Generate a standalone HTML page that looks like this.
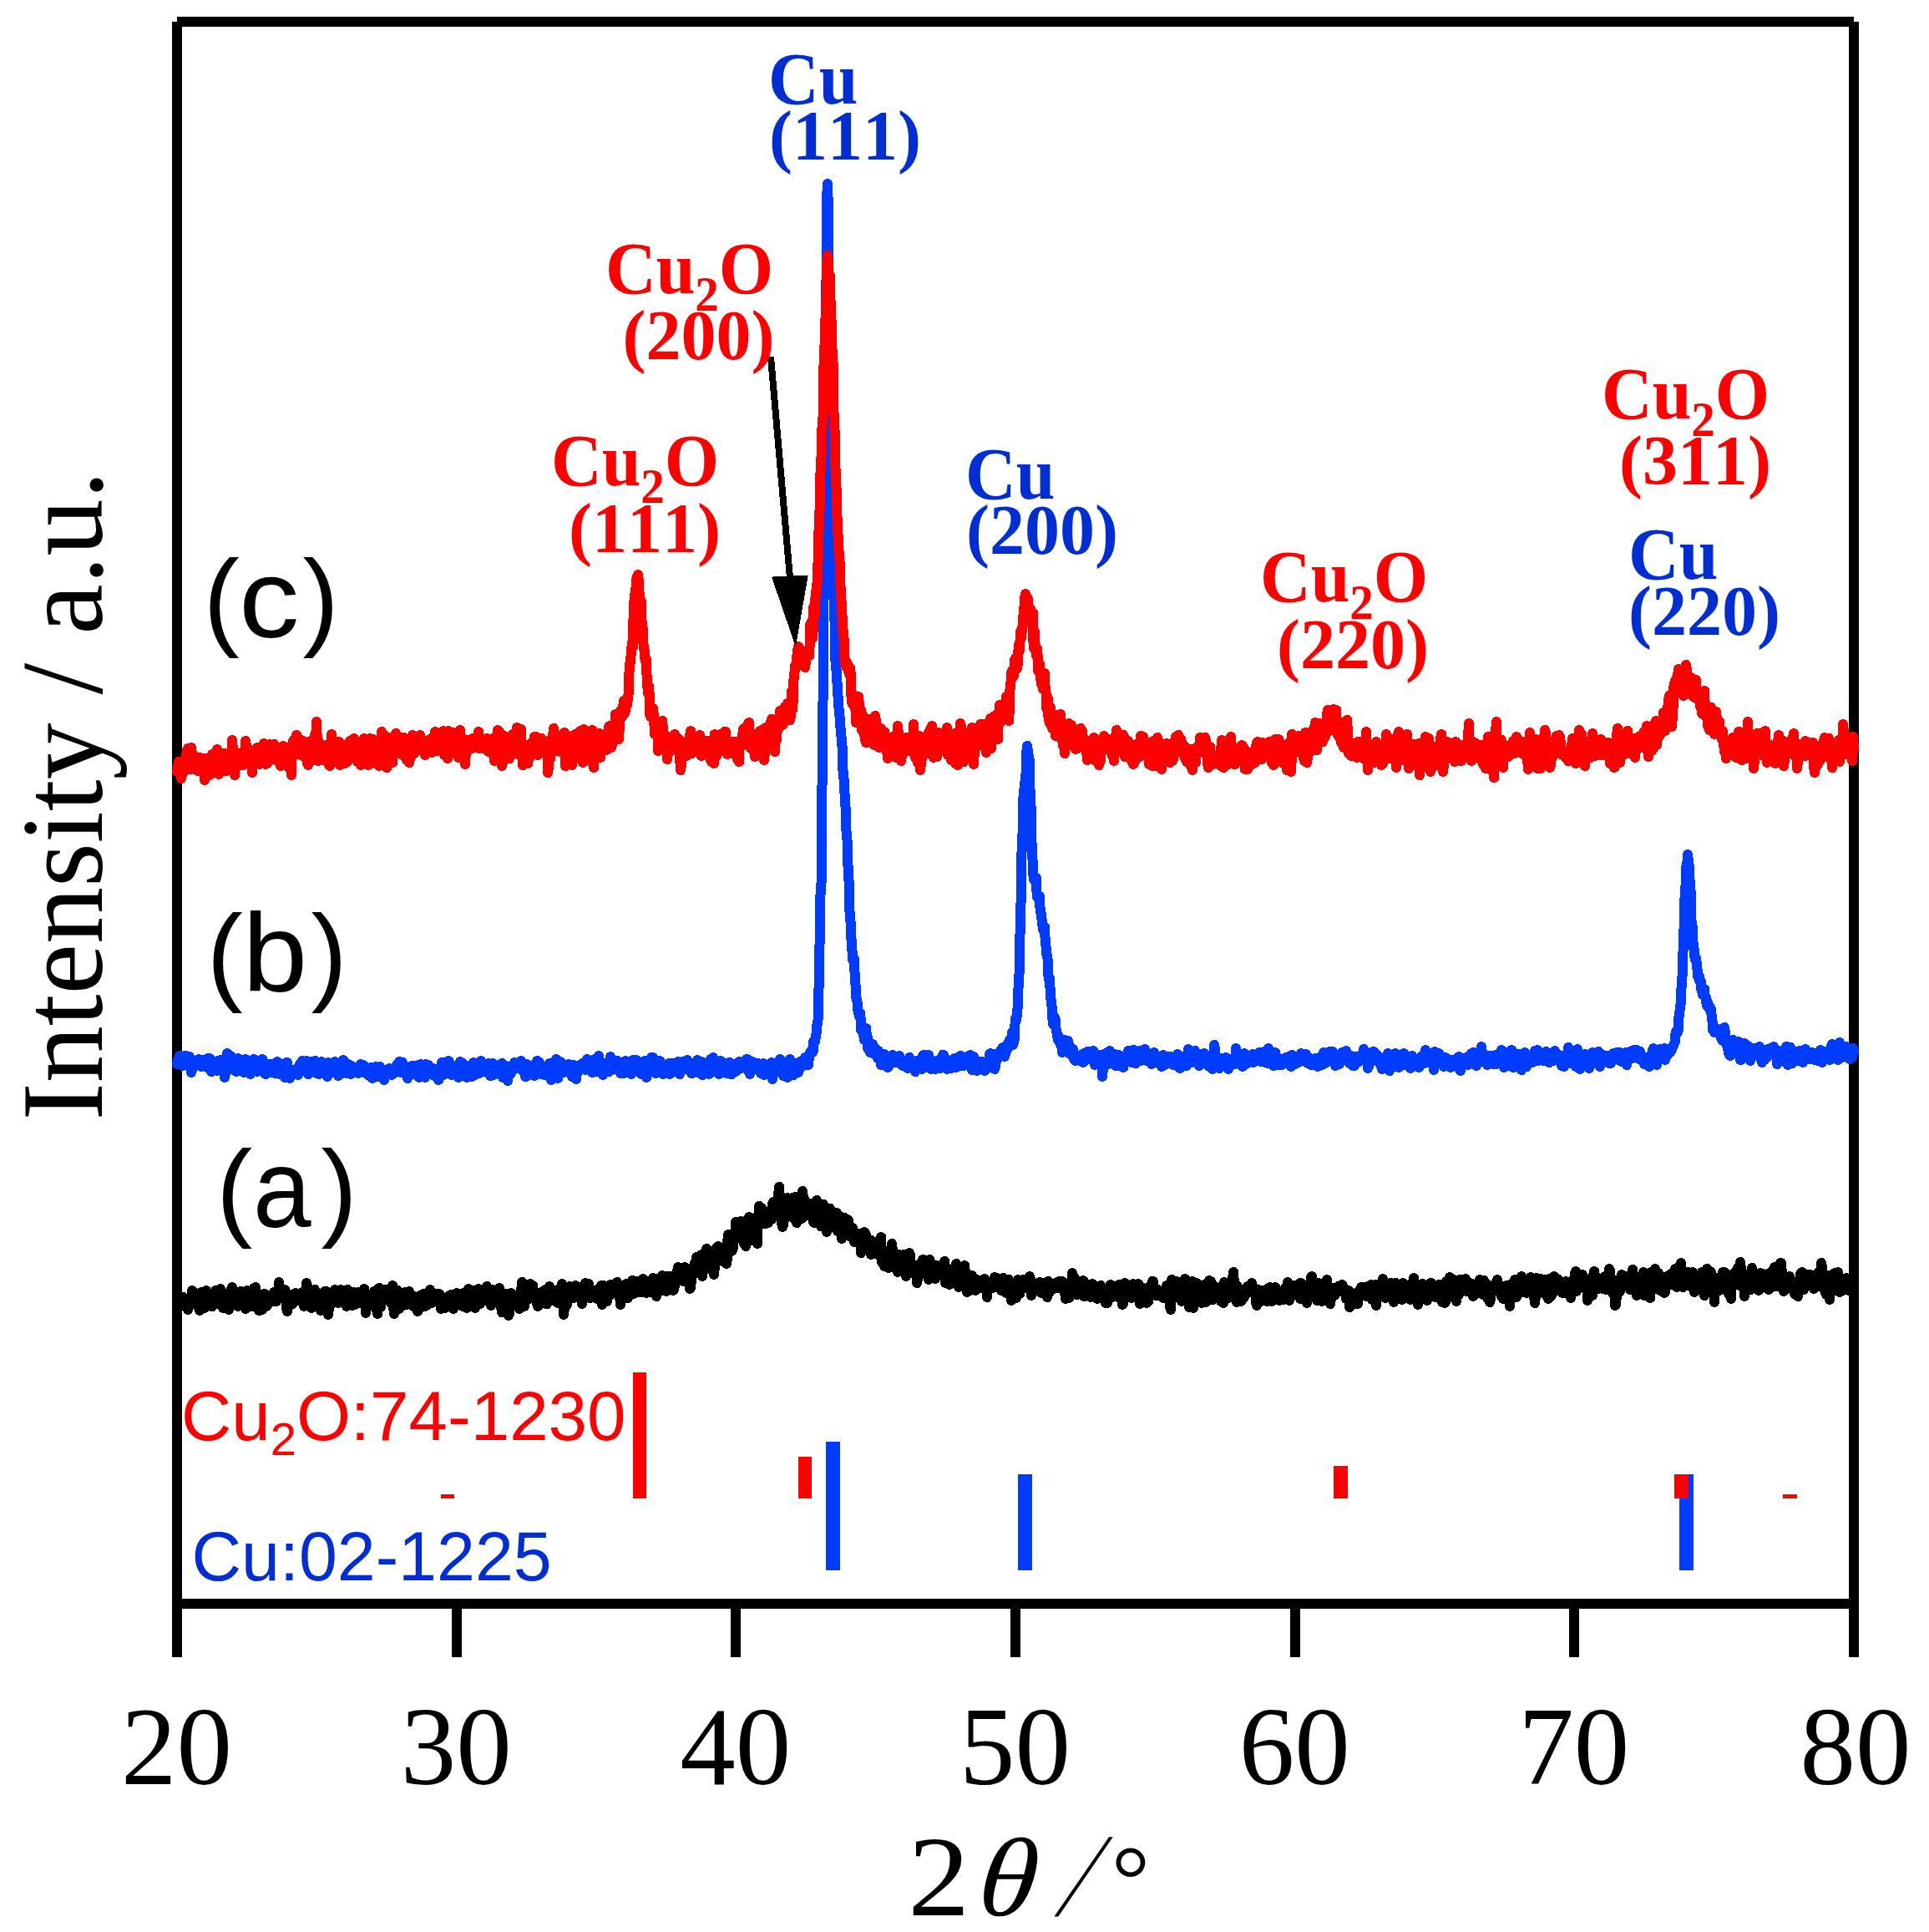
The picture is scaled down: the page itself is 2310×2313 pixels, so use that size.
<!DOCTYPE html><html><head><meta charset="utf-8"><title>XRD</title><style>html,body{margin:0;padding:0;background:#fff;overflow:hidden}svg{display:block}</style></head><body><svg width="2310" height="2313" viewBox="0 0 2310 2313" style="font-kerning:none">
<rect width="2310" height="2313" fill="#fff"/>
<g fill="#000" shape-rendering="crispEdges">
<rect x="212" y="20" width="2008" height="12"/>
<rect x="206" y="26" width="12" height="1958"/>
<rect x="2214" y="26" width="12" height="1958"/>
<rect x="212" y="1914" width="2008" height="12"/>
<rect x="541" y="1920" width="12" height="64"/>
<rect x="875" y="1920" width="12" height="64"/>
<rect x="1210" y="1920" width="12" height="64"/>
<rect x="1545" y="1920" width="12" height="64"/>
<rect x="1879" y="1920" width="12" height="64"/>
</g>
<g shape-rendering="crispEdges">
<rect x="989" y="1726" width="17" height="154" fill="#003cff"/>
<rect x="1219" y="1765" width="17" height="115" fill="#003cff"/>
<rect x="2011" y="1765" width="17" height="115" fill="#003cff"/>
<rect x="528" y="1789" width="16" height="5" fill="#ff0000"/>
<rect x="758" y="1643" width="16" height="151" fill="#ff0000"/>
<rect x="956" y="1744" width="16" height="50" fill="#ff0000"/>
<rect x="1597" y="1755" width="17" height="39" fill="#ff0000"/>
<rect x="2005" y="1765" width="17" height="29" fill="#ff0000"/>
<rect x="2135" y="1789" width="17" height="5" fill="#ff0000"/>
</g>
<path d="M212 1564L213 1553L213 1555L214 1557L215 1554L215 1552L216 1555L217 1563L217 1560L218 1555L219 1560L219 1553L220 1557L221 1561L221 1564L222 1564L223 1563L223 1561L224 1563L225 1566L225 1568L226 1560L227 1563L227 1562L228 1557L229 1554L230 1545L231 1546L231 1553L232 1552L233 1560L233 1558L234 1557L235 1558L236 1554L237 1553L237 1557L238 1565L239 1569L239 1568L240 1561L241 1552L241 1547L242 1558L243 1562L243 1558L244 1563L245 1566L245 1562L246 1564L247 1556L247 1545L248 1548L249 1554L249 1556L250 1551L251 1549L252 1554L253 1559L253 1564L254 1564L255 1560L256 1558L257 1561L258 1560L258 1545L259 1550L260 1561L261 1553L262 1558L262 1561L263 1551L264 1543L264 1547L265 1550L266 1555L266 1557L267 1566L268 1560L268 1551L269 1549L270 1549L270 1560L271 1566L272 1561L272 1559L273 1554L274 1562L274 1568L275 1557L276 1563L276 1562L277 1544L278 1541L278 1549L279 1559L280 1556L281 1561L282 1560L282 1557L283 1558L284 1561L284 1559L285 1564L286 1557L286 1552L287 1560L288 1556L288 1546L289 1550L290 1547L290 1550L291 1557L292 1554L292 1556L293 1560L294 1567L294 1558L295 1546L296 1545L296 1549L297 1555L298 1559L298 1563L299 1560L300 1559L301 1557L302 1560L302 1564L303 1562L304 1551L304 1542L305 1548L306 1550L306 1541L307 1549L308 1557L308 1551L309 1553L310 1568L310 1569L311 1562L312 1567L312 1565L313 1559L314 1568L314 1557L315 1550L316 1549L316 1551L317 1549L318 1556L318 1564L319 1560L320 1559L320 1563L321 1557L322 1559L322 1558L323 1557L324 1558L324 1557L325 1555L326 1550L326 1552L327 1558L328 1554L328 1547L329 1548L330 1550L330 1555L331 1558L332 1556L332 1553L333 1552L334 1541L334 1535L335 1545L336 1544L337 1548L338 1554L339 1551L339 1554L340 1551L341 1544L341 1545L342 1556L343 1562L343 1566L344 1570L345 1563L345 1558L346 1556L347 1556L347 1552L348 1555L349 1562L349 1550L350 1554L351 1560L351 1556L352 1550L353 1552L353 1550L354 1548L355 1552L356 1553L357 1556L357 1552L358 1555L359 1554L359 1557L360 1558L361 1555L361 1549L362 1547L363 1549L363 1557L364 1564L365 1563L365 1556L366 1551L367 1541L367 1536L368 1544L369 1546L369 1541L370 1543L371 1553L371 1548L372 1549L373 1566L373 1562L374 1556L375 1557L376 1560L377 1547L377 1544L378 1550L379 1554L379 1559L380 1548L381 1548L381 1557L382 1562L383 1564L383 1566L384 1569L385 1559L385 1558L386 1561L387 1555L387 1552L388 1551L389 1548L389 1546L390 1546L391 1546L391 1550L392 1552L393 1568L393 1574L394 1566L395 1556L395 1554L396 1562L397 1561L397 1558L398 1555L399 1558L399 1554L400 1550L401 1544L401 1549L402 1556L403 1553L403 1554L404 1559L405 1560L405 1557L406 1545L407 1554L407 1556L408 1544L409 1546L409 1555L410 1550L411 1550L411 1557L412 1556L413 1555L413 1552L414 1558L415 1564L415 1555L416 1544L417 1554L417 1555L418 1553L419 1557L419 1553L420 1561L421 1560L422 1563L422 1556L423 1547L424 1554L424 1559L425 1562L426 1561L426 1554L427 1558L428 1560L428 1553L429 1547L430 1549L430 1560L431 1560L432 1549L432 1548L433 1556L434 1549L434 1551L435 1547L436 1543L436 1551L437 1558L438 1569L438 1572L439 1562L440 1564L440 1563L441 1553L442 1553L442 1562L443 1557L444 1554L444 1553L445 1552L446 1553L446 1562L447 1564L448 1553L448 1546L449 1549L450 1545L450 1551L451 1567L452 1573L452 1561L453 1552L454 1552L454 1542L455 1549L456 1565L456 1560L457 1545L458 1544L458 1556L459 1556L460 1553L460 1555L461 1548L462 1544L462 1554L463 1551L464 1544L464 1545L465 1552L466 1553L466 1557L467 1558L468 1560L468 1554L469 1546L470 1539L470 1546L471 1564L472 1573L472 1553L473 1547L474 1556L474 1557L475 1553L476 1550L476 1545L477 1552L478 1564L478 1567L479 1558L480 1555L480 1560L481 1564L482 1559L482 1553L483 1558L484 1560L484 1550L485 1547L486 1556L486 1561L487 1562L488 1557L488 1551L489 1549L490 1546L491 1549L492 1554L492 1558L493 1551L494 1551L494 1555L495 1564L496 1560L496 1556L497 1560L498 1557L498 1556L499 1565L500 1568L500 1570L501 1569L502 1563L502 1556L503 1551L504 1557L504 1559L505 1560L506 1555L507 1549L508 1560L509 1564L509 1558L510 1561L511 1563L511 1553L512 1549L513 1551L513 1561L514 1559L515 1549L515 1544L516 1553L517 1560L517 1555L518 1554L519 1555L519 1550L520 1554L521 1557L521 1550L522 1549L523 1555L524 1554L525 1557L525 1555L526 1549L527 1550L527 1559L528 1567L529 1564L529 1556L530 1562L531 1563L531 1558L532 1560L533 1566L534 1555L535 1556L536 1557L537 1564L537 1561L538 1551L539 1552L539 1553L540 1550L541 1557L541 1558L542 1557L543 1562L543 1567L544 1559L545 1558L545 1564L546 1555L547 1548L548 1559L549 1561L549 1559L550 1557L551 1553L551 1549L552 1550L553 1556L553 1561L554 1564L555 1554L555 1548L556 1551L557 1558L557 1553L558 1561L559 1566L559 1560L560 1554L561 1543L561 1544L562 1545L563 1552L563 1554L564 1553L565 1560L565 1558L566 1552L567 1547L567 1545L568 1556L569 1566L569 1557L570 1555L571 1555L571 1560L572 1559L573 1551L573 1543L574 1551L575 1561L575 1558L576 1557L577 1549L577 1544L578 1554L579 1557L579 1552L580 1552L581 1555L581 1553L582 1555L583 1549L583 1540L584 1547L585 1549L585 1550L586 1554L587 1554L587 1560L588 1563L589 1555L590 1544L590 1549L591 1558L592 1554L592 1549L593 1554L594 1558L594 1559L595 1557L596 1551L597 1553L598 1549L598 1542L599 1545L600 1549L600 1564L601 1571L602 1571L602 1562L603 1556L604 1559L604 1557L605 1556L606 1549L606 1550L607 1560L608 1566L608 1564L609 1575L610 1573L610 1553L611 1549L612 1548L612 1550L613 1551L614 1555L614 1562L615 1563L616 1558L616 1555L617 1555L618 1557L618 1558L619 1557L620 1554L620 1550L621 1560L622 1567L622 1556L623 1549L624 1558L624 1548L625 1535L626 1547L626 1558L627 1561L628 1564L628 1561L629 1552L630 1540L630 1543L631 1554L632 1556L632 1548L633 1549L634 1551L634 1539L635 1537L636 1548L636 1554L637 1546L638 1539L638 1545L639 1547L640 1554L640 1555L641 1556L642 1557L642 1554L643 1560L644 1564L644 1562L645 1561L646 1555L646 1558L647 1554L648 1547L648 1549L649 1548L650 1548L650 1554L651 1558L652 1553L652 1549L653 1544L654 1552L654 1561L655 1561L656 1556L656 1548L657 1544L658 1546L658 1540L659 1543L660 1552L660 1553L661 1557L662 1548L663 1546L664 1547L664 1545L665 1548L666 1549L667 1557L668 1560L668 1553L669 1555L670 1553L670 1556L671 1559L672 1541L673 1537L674 1544L675 1557L675 1574L676 1566L677 1565L677 1561L678 1552L679 1556L679 1562L680 1556L681 1553L681 1550L682 1540L683 1542L683 1551L684 1552L685 1545L686 1548L687 1550L687 1554L688 1552L689 1547L689 1539L690 1540L691 1545L691 1541L692 1546L693 1544L694 1550L695 1545L695 1541L696 1543L697 1554L697 1561L698 1543L699 1543L699 1550L700 1553L701 1543L701 1536L702 1548L703 1545L703 1542L704 1537L705 1537L705 1545L706 1554L707 1554L707 1548L708 1549L709 1547L709 1548L710 1551L711 1550L711 1545L712 1546L713 1549L713 1547L714 1547L715 1555L715 1551L716 1551L717 1553L717 1550L718 1542L719 1554L719 1547L720 1539L721 1550L721 1562L722 1552L723 1539L723 1544L724 1550L725 1540L725 1541L726 1549L727 1558L727 1553L728 1552L729 1543L729 1541L730 1551L731 1548L731 1538L732 1547L733 1549L733 1543L734 1546L735 1546L735 1541L736 1538L737 1538L738 1536L739 1537L739 1535L740 1541L741 1541L741 1540L742 1552L743 1562L743 1554L744 1542L745 1549L745 1548L746 1543L747 1540L747 1546L748 1554L749 1549L749 1541L750 1537L751 1541L751 1551L752 1554L753 1541L753 1539L754 1539L755 1538L755 1545L756 1544L757 1533L758 1536L758 1548L759 1549L760 1545L760 1539L761 1540L762 1543L762 1537L763 1534L764 1541L764 1545L765 1540L766 1547L766 1546L767 1538L768 1539L768 1543L769 1547L770 1544L770 1531L771 1532L772 1544L772 1545L773 1544L774 1548L775 1539L776 1542L776 1540L777 1546L778 1547L778 1536L779 1538L780 1538L780 1537L781 1536L782 1530L782 1532L783 1543L784 1545L784 1534L785 1534L786 1552L787 1541L788 1531L788 1532L789 1536L790 1536L790 1546L791 1544L792 1538L792 1529L793 1527L794 1530L794 1536L795 1535L796 1535L796 1538L797 1542L798 1546L798 1536L799 1528L800 1536L800 1543L801 1535L802 1533L803 1536L804 1535L804 1528L805 1532L806 1541L806 1545L807 1544L808 1539L808 1531L809 1531L810 1534L810 1526L811 1523L812 1517L812 1521L813 1521L814 1521L814 1528L815 1525L816 1524L817 1526L818 1534L818 1528L819 1523L820 1517L820 1519L821 1522L822 1521L823 1528L824 1535L824 1527L825 1521L826 1527L826 1543L827 1542L828 1532L828 1526L829 1518L830 1519L830 1522L831 1519L832 1512L832 1513L833 1521L834 1516L834 1505L835 1516L836 1524L836 1517L837 1512L838 1509L838 1514L839 1506L840 1502L841 1515L841 1528L842 1512L843 1504L843 1513L844 1520L845 1520L845 1503L846 1495L847 1505L847 1513L848 1516L849 1513L849 1499L850 1498L851 1507L851 1514L852 1511L853 1502L853 1500L854 1512L855 1522L855 1526L856 1515L857 1511L857 1498L858 1494L859 1495L859 1494L860 1492L861 1495L861 1497L862 1499L863 1503L863 1501L864 1503L865 1510L865 1505L866 1500L867 1498L867 1499L868 1498L869 1495L869 1506L870 1513L871 1506L871 1489L872 1478L873 1485L873 1494L874 1497L875 1491L875 1492L876 1498L877 1492L877 1497L878 1494L879 1481L879 1483L880 1480L881 1471L881 1463L882 1468L883 1481L883 1482L884 1480L885 1473L885 1474L886 1472L887 1462L887 1463L888 1477L889 1477L889 1470L890 1475L891 1487L891 1489L892 1475L893 1483L893 1492L894 1485L895 1476L895 1460L896 1474L897 1469L897 1457L898 1473L899 1484L899 1485L900 1481L901 1468L901 1459L902 1460L903 1465L903 1466L904 1462L905 1465L905 1472L906 1476L907 1489L907 1483L908 1457L909 1448L909 1444L910 1448L911 1457L911 1449L912 1446L913 1455L913 1462L914 1456L915 1456L915 1465L916 1465L917 1465L917 1462L918 1451L919 1451L919 1454L920 1464L921 1461L921 1452L922 1458L923 1452L924 1460L924 1456L925 1442L926 1439L926 1445L927 1448L928 1447L928 1449L929 1441L930 1446L930 1444L931 1435L932 1442L932 1431L933 1421L934 1434L934 1448L935 1454L936 1452L936 1464L937 1469L938 1467L938 1464L939 1453L940 1446L940 1454L941 1458L942 1451L942 1439L943 1434L944 1447L945 1436L946 1444L946 1452L947 1449L948 1454L948 1449L949 1434L950 1439L950 1451L951 1459L952 1453L952 1433L953 1440L954 1455L954 1464L955 1460L956 1441L956 1434L957 1437L958 1444L958 1440L959 1454L960 1459L960 1445L961 1426L962 1435L962 1445L963 1435L964 1439L964 1448L965 1455L966 1453L966 1449L967 1444L968 1445L968 1449L969 1453L970 1452L970 1451L971 1441L972 1453L972 1456L973 1459L974 1457L974 1463L975 1464L976 1451L976 1449L977 1450L978 1447L978 1437L979 1444L980 1446L980 1444L981 1443L982 1444L982 1461L983 1468L984 1468L984 1449L985 1442L986 1447L986 1442L987 1449L988 1449L988 1452L989 1458L990 1464L990 1475L991 1465L992 1453L992 1458L993 1451L994 1451L994 1447L995 1453L996 1467L996 1459L997 1452L998 1454L998 1463L999 1470L1000 1454L1000 1452L1001 1460L1002 1452L1002 1461L1003 1474L1004 1468L1004 1461L1005 1457L1006 1456L1006 1461L1007 1472L1008 1483L1009 1480L1009 1466L1010 1465L1011 1469L1011 1458L1012 1462L1013 1465L1013 1460L1014 1463L1015 1469L1015 1460L1016 1461L1017 1468L1017 1471L1018 1470L1019 1481L1019 1478L1020 1474L1021 1473L1021 1470L1022 1473L1023 1487L1023 1485L1024 1484L1025 1487L1025 1481L1026 1485L1027 1482L1027 1479L1028 1482L1029 1477L1029 1482L1030 1482L1031 1490L1031 1500L1032 1493L1033 1484L1034 1481L1035 1475L1035 1477L1036 1488L1037 1489L1037 1478L1038 1487L1039 1495L1039 1491L1040 1488L1041 1494L1041 1489L1042 1500L1043 1502L1043 1485L1044 1492L1045 1500L1045 1497L1046 1491L1047 1489L1047 1487L1048 1497L1049 1501L1049 1493L1050 1489L1051 1494L1051 1499L1052 1501L1053 1501L1053 1498L1054 1485L1055 1481L1055 1504L1056 1511L1057 1496L1058 1507L1059 1514L1059 1516L1060 1516L1061 1510L1062 1509L1063 1508L1063 1516L1064 1518L1065 1515L1065 1511L1066 1511L1067 1505L1067 1501L1068 1489L1069 1497L1069 1510L1070 1509L1071 1505L1071 1503L1072 1518L1073 1519L1073 1513L1074 1515L1075 1519L1075 1523L1076 1513L1077 1502L1077 1510L1078 1522L1079 1519L1079 1513L1080 1516L1081 1517L1081 1514L1082 1502L1083 1505L1083 1516L1084 1516L1085 1522L1085 1528L1086 1519L1087 1514L1087 1510L1088 1510L1089 1510L1089 1500L1090 1502L1091 1520L1092 1523L1092 1524L1093 1521L1094 1520L1094 1524L1095 1521L1096 1515L1096 1520L1097 1515L1098 1524L1098 1536L1099 1531L1100 1529L1100 1523L1101 1522L1102 1522L1102 1520L1103 1512L1104 1512L1104 1516L1105 1508L1106 1512L1106 1521L1107 1516L1108 1510L1108 1512L1109 1518L1110 1520L1110 1521L1111 1526L1112 1532L1112 1519L1113 1508L1114 1518L1114 1523L1115 1519L1116 1515L1116 1526L1117 1526L1118 1519L1118 1514L1119 1522L1120 1528L1120 1531L1121 1521L1122 1515L1122 1519L1123 1520L1124 1522L1124 1518L1125 1520L1126 1523L1127 1520L1128 1518L1128 1521L1129 1522L1130 1524L1130 1519L1131 1510L1132 1523L1132 1536L1133 1534L1134 1532L1134 1530L1135 1521L1136 1519L1136 1532L1137 1538L1138 1535L1138 1533L1139 1531L1140 1529L1140 1530L1141 1530L1142 1528L1142 1521L1143 1523L1144 1530L1144 1522L1145 1513L1146 1518L1146 1520L1147 1538L1148 1541L1148 1534L1149 1524L1150 1520L1150 1526L1151 1528L1152 1526L1152 1531L1153 1537L1154 1534L1154 1520L1155 1515L1156 1524L1156 1528L1157 1537L1158 1547L1159 1541L1160 1544L1160 1546L1161 1538L1162 1537L1162 1539L1163 1533L1164 1528L1164 1527L1165 1530L1166 1531L1166 1536L1167 1537L1168 1545L1168 1542L1169 1532L1170 1537L1170 1538L1171 1543L1172 1541L1172 1537L1173 1538L1174 1534L1175 1537L1175 1538L1176 1536L1177 1535L1177 1532L1178 1534L1179 1531L1179 1538L1180 1542L1181 1540L1181 1542L1182 1553L1183 1543L1183 1535L1184 1536L1185 1543L1185 1540L1186 1540L1187 1535L1187 1536L1188 1538L1189 1542L1189 1536L1190 1533L1191 1535L1191 1529L1192 1531L1193 1536L1193 1530L1194 1537L1195 1535L1195 1532L1196 1539L1197 1542L1197 1536L1198 1538L1199 1545L1200 1539L1201 1532L1201 1530L1202 1535L1203 1543L1203 1545L1204 1546L1205 1548L1205 1540L1206 1535L1207 1541L1207 1545L1208 1532L1209 1537L1209 1543L1210 1547L1211 1557L1211 1554L1212 1545L1213 1537L1213 1540L1214 1539L1215 1540L1216 1539L1217 1547L1217 1554L1218 1551L1219 1539L1219 1532L1220 1545L1221 1549L1221 1541L1222 1539L1223 1541L1223 1539L1224 1541L1225 1534L1225 1532L1226 1535L1227 1532L1227 1538L1228 1541L1229 1536L1229 1542L1230 1541L1231 1543L1231 1542L1232 1537L1233 1532L1233 1528L1234 1531L1235 1538L1235 1551L1236 1548L1237 1537L1237 1543L1238 1543L1239 1540L1239 1545L1240 1545L1241 1539L1241 1538L1242 1539L1243 1536L1243 1540L1244 1539L1245 1535L1246 1543L1247 1548L1247 1543L1248 1539L1249 1544L1249 1545L1250 1548L1251 1547L1251 1538L1252 1537L1253 1535L1253 1539L1254 1553L1255 1547L1255 1534L1256 1538L1257 1542L1257 1547L1258 1544L1259 1541L1260 1543L1260 1544L1261 1542L1262 1540L1262 1541L1263 1542L1264 1536L1264 1539L1265 1540L1266 1540L1266 1542L1267 1535L1268 1534L1268 1537L1269 1542L1270 1540L1270 1542L1271 1540L1272 1534L1272 1539L1273 1538L1274 1538L1274 1542L1275 1548L1276 1552L1276 1555L1277 1546L1278 1538L1278 1539L1279 1548L1280 1554L1280 1546L1281 1540L1282 1543L1282 1544L1283 1541L1284 1532L1284 1524L1285 1535L1286 1548L1286 1541L1287 1530L1288 1533L1288 1536L1289 1550L1290 1545L1290 1538L1291 1543L1292 1541L1292 1544L1293 1541L1294 1537L1294 1541L1295 1540L1296 1548L1296 1544L1297 1533L1298 1534L1298 1552L1299 1552L1300 1543L1300 1550L1301 1547L1302 1542L1302 1541L1303 1545L1304 1551L1304 1543L1305 1538L1306 1553L1306 1551L1307 1538L1308 1537L1308 1538L1309 1543L1310 1547L1310 1545L1311 1539L1312 1540L1312 1547L1313 1551L1314 1555L1314 1546L1315 1547L1316 1544L1316 1543L1317 1551L1318 1546L1318 1539L1319 1543L1320 1547L1320 1543L1321 1551L1322 1551L1322 1548L1323 1556L1324 1560L1324 1553L1325 1552L1326 1560L1326 1556L1327 1543L1328 1541L1328 1542L1329 1539L1330 1538L1330 1547L1331 1548L1332 1549L1332 1553L1333 1545L1334 1544L1334 1546L1335 1543L1336 1546L1336 1550L1337 1551L1338 1552L1338 1545L1339 1542L1340 1538L1340 1540L1341 1545L1342 1554L1343 1555L1344 1562L1345 1561L1345 1552L1346 1541L1347 1536L1347 1542L1348 1543L1349 1541L1349 1539L1350 1540L1351 1549L1351 1542L1352 1541L1353 1545L1353 1541L1354 1551L1355 1554L1355 1545L1356 1539L1357 1537L1357 1538L1358 1551L1359 1549L1359 1541L1360 1541L1361 1552L1361 1554L1362 1542L1363 1537L1364 1548L1365 1555L1365 1561L1366 1551L1367 1543L1367 1544L1368 1547L1369 1542L1369 1549L1370 1550L1371 1543L1371 1544L1372 1556L1373 1560L1373 1551L1374 1554L1375 1558L1375 1548L1376 1542L1377 1540L1377 1544L1378 1546L1379 1543L1379 1539L1380 1534L1381 1534L1381 1541L1382 1548L1383 1544L1383 1543L1384 1551L1385 1551L1385 1543L1386 1544L1387 1551L1387 1550L1388 1545L1389 1547L1389 1551L1390 1552L1391 1548L1391 1552L1392 1550L1393 1546L1393 1554L1394 1553L1395 1547L1395 1554L1396 1544L1397 1539L1397 1546L1398 1553L1399 1553L1399 1552L1400 1557L1401 1557L1401 1564L1402 1568L1403 1550L1403 1532L1404 1537L1405 1541L1405 1546L1406 1546L1407 1538L1407 1537L1408 1543L1409 1540L1409 1534L1410 1547L1411 1550L1411 1548L1412 1547L1413 1542L1413 1547L1414 1556L1415 1558L1415 1552L1416 1545L1417 1545L1417 1555L1418 1553L1419 1541L1419 1531L1420 1532L1421 1537L1421 1551L1422 1550L1423 1543L1423 1550L1424 1565L1425 1558L1426 1542L1426 1540L1427 1535L1428 1534L1428 1550L1429 1566L1430 1563L1430 1550L1431 1546L1432 1550L1433 1536L1434 1537L1434 1555L1435 1557L1436 1558L1436 1556L1437 1555L1438 1548L1438 1552L1439 1560L1440 1556L1440 1549L1441 1550L1442 1542L1442 1538L1443 1550L1444 1559L1444 1553L1445 1544L1446 1551L1446 1552L1447 1540L1448 1533L1448 1549L1449 1556L1450 1548L1450 1534L1451 1536L1452 1551L1452 1556L1453 1551L1454 1548L1454 1547L1455 1544L1456 1541L1457 1545L1458 1547L1458 1554L1459 1552L1460 1548L1460 1553L1461 1546L1462 1550L1462 1558L1463 1552L1464 1539L1464 1551L1465 1560L1466 1553L1466 1535L1467 1537L1468 1543L1468 1547L1469 1552L1470 1549L1470 1554L1471 1550L1472 1537L1472 1536L1473 1542L1474 1549L1474 1553L1475 1550L1476 1548L1476 1532L1477 1523L1478 1538L1478 1548L1479 1543L1480 1541L1480 1552L1481 1559L1482 1549L1482 1540L1483 1544L1484 1557L1484 1553L1485 1553L1486 1558L1486 1554L1487 1546L1488 1552L1488 1555L1489 1554L1490 1553L1490 1545L1491 1543L1492 1545L1492 1548L1493 1545L1494 1545L1494 1540L1495 1542L1496 1544L1496 1545L1497 1547L1498 1545L1498 1539L1499 1536L1500 1547L1500 1545L1501 1541L1502 1543L1502 1548L1503 1545L1504 1550L1504 1559L1505 1563L1506 1559L1506 1550L1507 1544L1508 1554L1508 1559L1509 1557L1510 1554L1511 1548L1511 1546L1512 1555L1513 1554L1513 1545L1514 1550L1515 1552L1515 1553L1516 1553L1517 1557L1517 1558L1518 1551L1519 1542L1519 1548L1520 1546L1521 1541L1521 1545L1522 1542L1523 1553L1523 1558L1524 1550L1525 1552L1525 1553L1526 1548L1527 1541L1527 1547L1528 1551L1529 1551L1530 1554L1531 1553L1531 1555L1532 1557L1533 1553L1533 1554L1534 1552L1535 1549L1535 1546L1536 1553L1537 1556L1537 1551L1538 1552L1539 1548L1539 1542L1540 1549L1541 1554L1541 1542L1542 1535L1543 1542L1543 1548L1544 1557L1545 1551L1545 1545L1546 1543L1547 1545L1547 1541L1548 1539L1549 1542L1549 1545L1550 1550L1551 1542L1551 1541L1552 1539L1553 1540L1553 1548L1554 1541L1555 1547L1555 1542L1556 1549L1557 1555L1557 1536L1558 1536L1559 1552L1559 1549L1560 1543L1561 1543L1561 1541L1562 1548L1563 1555L1563 1548L1564 1549L1565 1559L1565 1560L1566 1548L1567 1545L1567 1542L1568 1540L1569 1541L1569 1537L1570 1529L1571 1528L1571 1537L1572 1548L1573 1553L1573 1546L1574 1546L1575 1552L1576 1547L1577 1550L1577 1557L1578 1548L1579 1539L1579 1536L1580 1544L1581 1550L1581 1557L1582 1551L1583 1553L1583 1558L1584 1555L1585 1546L1585 1553L1586 1550L1587 1545L1587 1543L1588 1542L1589 1537L1589 1532L1590 1544L1591 1546L1591 1540L1592 1549L1593 1561L1594 1553L1594 1549L1595 1554L1596 1545L1596 1542L1597 1542L1598 1545L1598 1551L1599 1550L1600 1543L1600 1544L1601 1545L1602 1544L1602 1543L1603 1540L1604 1540L1604 1542L1605 1541L1606 1546L1606 1544L1607 1538L1608 1539L1608 1541L1609 1544L1610 1546L1610 1543L1611 1544L1612 1555L1613 1551L1614 1553L1614 1550L1615 1545L1616 1552L1616 1565L1617 1561L1618 1554L1618 1548L1619 1554L1620 1562L1620 1557L1621 1557L1622 1558L1622 1557L1623 1558L1624 1552L1624 1548L1625 1550L1626 1561L1626 1554L1627 1551L1628 1553L1628 1546L1629 1543L1630 1541L1630 1543L1631 1545L1632 1548L1632 1545L1633 1541L1634 1542L1634 1543L1635 1545L1636 1552L1637 1545L1638 1540L1638 1543L1639 1540L1640 1544L1640 1545L1641 1540L1642 1538L1642 1544L1643 1556L1644 1549L1644 1546L1645 1552L1646 1553L1646 1550L1647 1538L1648 1544L1648 1563L1649 1553L1650 1544L1650 1548L1651 1549L1652 1542L1652 1544L1653 1548L1654 1550L1654 1547L1655 1541L1656 1533L1656 1531L1657 1542L1658 1538L1658 1544L1659 1554L1660 1549L1660 1548L1661 1547L1662 1549L1662 1546L1663 1546L1664 1552L1664 1544L1665 1536L1666 1542L1666 1545L1667 1542L1668 1549L1668 1557L1669 1559L1670 1548L1670 1544L1671 1536L1672 1539L1672 1546L1673 1548L1674 1546L1674 1543L1675 1540L1676 1542L1677 1547L1677 1551L1678 1553L1679 1556L1679 1551L1680 1536L1681 1537L1681 1542L1682 1544L1683 1552L1684 1547L1685 1549L1685 1552L1686 1545L1687 1545L1687 1551L1688 1554L1689 1556L1689 1553L1690 1549L1691 1541L1691 1538L1692 1536L1693 1530L1693 1544L1694 1552L1695 1547L1696 1551L1697 1550L1697 1556L1698 1562L1699 1557L1699 1554L1700 1551L1701 1548L1701 1547L1702 1549L1703 1548L1703 1537L1704 1541L1705 1546L1705 1541L1706 1541L1707 1542L1707 1548L1708 1555L1709 1557L1709 1550L1710 1542L1711 1546L1711 1552L1712 1550L1713 1536L1713 1538L1714 1536L1715 1546L1715 1550L1716 1551L1717 1552L1717 1548L1718 1543L1719 1548L1719 1553L1720 1547L1721 1542L1721 1540L1722 1548L1723 1543L1723 1538L1724 1538L1725 1538L1725 1544L1726 1554L1727 1556L1727 1559L1728 1555L1729 1544L1729 1549L1730 1560L1731 1559L1731 1538L1732 1534L1733 1543L1733 1541L1734 1539L1735 1543L1735 1535L1736 1529L1737 1539L1737 1547L1738 1551L1739 1552L1739 1547L1740 1542L1741 1536L1741 1532L1742 1540L1743 1551L1743 1556L1744 1558L1745 1544L1745 1535L1746 1547L1747 1550L1747 1536L1748 1532L1749 1543L1749 1546L1750 1538L1751 1538L1751 1536L1752 1532L1753 1534L1753 1541L1754 1541L1755 1533L1755 1531L1756 1546L1757 1542L1757 1538L1758 1538L1759 1540L1759 1536L1760 1540L1761 1545L1762 1546L1762 1538L1763 1537L1764 1546L1764 1552L1765 1541L1766 1540L1766 1541L1767 1546L1768 1549L1768 1547L1769 1546L1770 1545L1770 1540L1771 1537L1772 1532L1772 1536L1773 1538L1774 1542L1774 1548L1775 1549L1776 1550L1776 1546L1777 1533L1778 1540L1778 1544L1779 1540L1780 1537L1780 1546L1781 1554L1782 1552L1782 1547L1783 1549L1784 1555L1784 1559L1785 1555L1786 1547L1786 1545L1787 1545L1788 1544L1788 1543L1789 1545L1790 1539L1790 1538L1791 1542L1792 1540L1792 1535L1793 1532L1794 1543L1794 1545L1795 1543L1796 1546L1796 1544L1797 1544L1798 1552L1798 1547L1799 1552L1800 1555L1800 1544L1801 1540L1802 1541L1802 1546L1803 1541L1804 1539L1804 1550L1805 1549L1806 1542L1806 1548L1807 1553L1808 1564L1808 1558L1809 1543L1810 1538L1810 1537L1811 1541L1812 1545L1812 1547L1813 1541L1814 1532L1814 1538L1815 1552L1816 1553L1816 1544L1817 1541L1818 1541L1818 1538L1819 1534L1820 1542L1820 1541L1821 1536L1822 1528L1822 1541L1823 1546L1824 1536L1824 1547L1825 1547L1826 1535L1826 1534L1827 1546L1828 1548L1828 1546L1829 1540L1830 1539L1830 1543L1831 1541L1832 1541L1832 1532L1833 1529L1834 1534L1834 1542L1835 1532L1836 1532L1836 1544L1837 1550L1838 1560L1839 1552L1840 1543L1840 1530L1841 1531L1842 1537L1843 1531L1844 1531L1845 1537L1845 1547L1846 1546L1847 1540L1848 1541L1849 1537L1849 1534L1850 1532L1851 1544L1851 1550L1852 1547L1853 1546L1853 1550L1854 1555L1855 1544L1855 1531L1856 1534L1857 1546L1857 1552L1858 1551L1859 1549L1859 1541L1860 1531L1861 1529L1861 1528L1862 1531L1863 1532L1863 1538L1864 1536L1865 1531L1865 1543L1866 1544L1867 1535L1867 1540L1868 1545L1869 1543L1869 1546L1870 1547L1871 1548L1871 1544L1872 1542L1873 1546L1873 1548L1874 1543L1875 1537L1875 1534L1876 1535L1877 1537L1877 1541L1878 1542L1879 1541L1880 1546L1881 1554L1881 1550L1882 1541L1883 1541L1883 1539L1884 1538L1885 1537L1885 1533L1886 1524L1887 1522L1887 1538L1888 1546L1889 1539L1889 1540L1890 1540L1891 1539L1891 1535L1892 1536L1893 1533L1893 1526L1894 1535L1895 1534L1895 1526L1896 1538L1897 1542L1898 1541L1899 1535L1899 1531L1900 1533L1901 1541L1901 1557L1902 1555L1903 1540L1903 1537L1904 1542L1905 1542L1905 1534L1906 1536L1907 1551L1907 1547L1908 1528L1909 1522L1909 1530L1910 1540L1911 1542L1911 1534L1912 1529L1913 1538L1913 1543L1914 1539L1915 1537L1915 1541L1916 1537L1917 1532L1917 1533L1918 1533L1919 1543L1919 1541L1920 1534L1921 1540L1921 1541L1922 1528L1923 1536L1923 1544L1924 1532L1925 1530L1925 1529L1926 1528L1927 1519L1928 1521L1928 1531L1929 1539L1930 1542L1930 1544L1931 1548L1932 1547L1932 1542L1933 1533L1934 1542L1934 1563L1935 1562L1936 1550L1936 1547L1937 1545L1938 1542L1938 1548L1939 1540L1940 1541L1940 1546L1941 1531L1942 1530L1942 1526L1943 1528L1944 1534L1944 1535L1945 1535L1946 1532L1946 1531L1947 1528L1948 1528L1948 1529L1949 1534L1950 1532L1950 1537L1951 1535L1952 1537L1952 1544L1953 1536L1954 1526L1954 1528L1955 1520L1956 1530L1956 1531L1957 1527L1958 1533L1958 1540L1959 1547L1960 1544L1960 1551L1961 1548L1962 1534L1962 1533L1963 1542L1964 1539L1964 1536L1965 1532L1966 1527L1966 1528L1967 1525L1968 1523L1968 1535L1969 1551L1970 1551L1970 1540L1971 1538L1972 1543L1972 1547L1973 1540L1974 1532L1974 1535L1975 1549L1976 1554L1976 1533L1977 1523L1978 1535L1978 1537L1979 1539L1980 1544L1980 1535L1981 1522L1982 1519L1982 1527L1983 1528L1984 1531L1984 1527L1985 1526L1986 1524L1986 1528L1987 1533L1988 1541L1988 1545L1989 1535L1990 1534L1990 1546L1991 1544L1992 1541L1992 1544L1993 1548L1994 1547L1994 1544L1995 1539L1996 1529L1996 1528L1997 1532L1998 1535L1998 1536L1999 1537L2000 1534L2000 1527L2001 1525L2002 1537L2002 1538L2003 1531L2004 1536L2004 1538L2005 1531L2006 1519L2006 1520L2007 1531L2008 1541L2008 1532L2009 1527L2010 1525L2010 1529L2011 1530L2012 1514L2013 1512L2013 1531L2014 1534L2015 1533L2015 1541L2016 1537L2017 1522L2017 1530L2018 1539L2019 1532L2019 1533L2020 1539L2021 1531L2021 1523L2022 1523L2023 1525L2023 1529L2024 1527L2025 1532L2025 1526L2026 1526L2027 1523L2027 1531L2028 1543L2029 1547L2029 1545L2030 1537L2031 1535L2031 1537L2032 1537L2033 1536L2033 1541L2034 1542L2035 1543L2035 1542L2036 1537L2037 1530L2037 1526L2038 1523L2039 1528L2039 1534L2040 1535L2041 1536L2041 1551L2042 1545L2043 1544L2043 1537L2044 1519L2045 1529L2045 1536L2046 1524L2047 1530L2047 1528L2048 1529L2049 1529L2049 1523L2050 1528L2051 1528L2051 1529L2052 1546L2053 1559L2053 1547L2054 1538L2055 1533L2055 1530L2056 1538L2057 1545L2057 1541L2058 1540L2059 1541L2059 1545L2060 1531L2061 1535L2061 1540L2062 1534L2063 1524L2063 1523L2064 1530L2065 1531L2065 1523L2066 1525L2067 1537L2067 1541L2068 1531L2069 1526L2069 1534L2070 1549L2071 1543L2071 1537L2072 1546L2073 1555L2073 1544L2074 1527L2075 1528L2075 1530L2076 1527L2077 1524L2077 1525L2078 1527L2079 1533L2079 1531L2080 1520L2081 1518L2081 1528L2082 1538L2083 1539L2083 1526L2084 1511L2085 1520L2085 1527L2086 1527L2087 1524L2087 1526L2088 1536L2089 1552L2089 1545L2090 1534L2091 1533L2091 1534L2092 1534L2093 1532L2093 1536L2094 1543L2095 1543L2096 1542L2096 1544L2097 1537L2098 1524L2098 1518L2099 1525L2100 1533L2100 1539L2101 1541L2102 1531L2102 1529L2103 1540L2104 1543L2104 1535L2105 1539L2106 1545L2106 1540L2107 1529L2108 1524L2108 1539L2109 1542L2110 1536L2110 1528L2111 1525L2112 1530L2112 1536L2113 1538L2114 1533L2114 1541L2115 1542L2116 1540L2116 1532L2117 1537L2118 1544L2118 1535L2119 1524L2120 1530L2120 1534L2121 1523L2122 1522L2122 1530L2123 1531L2124 1533L2124 1524L2125 1517L2126 1529L2126 1540L2127 1533L2128 1533L2128 1534L2129 1532L2130 1540L2131 1534L2132 1520L2132 1512L2133 1512L2134 1526L2134 1535L2135 1543L2136 1546L2136 1536L2137 1534L2138 1541L2138 1544L2139 1535L2140 1536L2140 1534L2141 1534L2142 1537L2142 1529L2143 1528L2144 1536L2145 1533L2146 1535L2146 1537L2147 1536L2148 1540L2148 1544L2149 1549L2150 1549L2150 1543L2151 1536L2152 1534L2152 1539L2153 1552L2154 1543L2154 1542L2155 1542L2156 1528L2156 1525L2157 1528L2158 1524L2158 1523L2159 1532L2160 1544L2160 1543L2161 1537L2162 1531L2162 1526L2163 1537L2164 1537L2164 1530L2165 1533L2166 1533L2166 1529L2167 1526L2168 1526L2168 1529L2169 1537L2170 1540L2170 1538L2171 1534L2172 1538L2172 1543L2173 1532L2174 1539L2174 1541L2175 1536L2176 1532L2176 1530L2177 1524L2178 1523L2179 1527L2180 1540L2181 1536L2181 1512L2182 1517L2183 1534L2183 1538L2184 1538L2185 1541L2185 1544L2186 1548L2187 1550L2187 1543L2188 1537L2189 1527L2190 1531L2191 1548L2191 1556L2192 1542L2193 1528L2193 1532L2194 1536L2195 1540L2195 1546L2196 1538L2197 1524L2197 1536L2198 1535L2199 1534L2199 1543L2200 1534L2201 1523L2201 1524L2202 1535L2203 1546L2203 1547L2204 1537L2205 1536L2205 1544L2206 1541L2207 1545L2207 1542L2208 1537L2209 1536L2210 1532L2211 1530L2211 1531L2212 1532L2213 1536L2214 1534L2215 1533L2215 1538L2216 1546L2217 1539L2217 1531L2218 1534L2219 1539L2219 1536L2220 1534" stroke="#000" fill="none" stroke-width="12" stroke-linejoin="round" stroke-linecap="round" shape-rendering="crispEdges"/>
<path d="M212 1274L213 1272L213 1269L214 1272L215 1268L215 1264L216 1266L217 1271L217 1275L218 1275L219 1274L219 1276L220 1275L221 1273L221 1264L222 1264L223 1270L223 1267L224 1268L225 1270L225 1269L226 1272L227 1273L227 1265L228 1275L229 1284L229 1276L230 1273L231 1279L232 1270L233 1270L233 1273L234 1275L235 1275L236 1272L237 1271L237 1269L238 1268L239 1271L239 1270L240 1270L241 1277L241 1273L242 1269L243 1274L243 1273L244 1274L245 1274L245 1275L246 1273L247 1271L247 1276L248 1278L249 1267L249 1271L250 1274L251 1267L251 1269L252 1280L253 1279L253 1283L254 1280L255 1276L256 1277L256 1279L257 1281L258 1278L258 1276L259 1277L260 1282L260 1278L261 1270L262 1270L262 1273L263 1271L264 1270L264 1269L265 1272L266 1277L266 1279L267 1280L268 1283L269 1290L270 1285L270 1278L271 1268L272 1261L272 1269L273 1279L274 1281L274 1275L275 1280L276 1278L276 1273L277 1265L278 1271L278 1275L279 1278L280 1275L280 1272L281 1278L282 1281L283 1283L284 1282L284 1275L285 1267L286 1269L286 1280L287 1281L288 1276L288 1274L289 1275L290 1275L290 1273L291 1276L292 1284L292 1279L293 1271L294 1268L294 1272L295 1279L296 1280L296 1276L297 1275L298 1273L299 1280L300 1284L300 1286L301 1277L302 1276L302 1279L303 1274L304 1268L304 1270L305 1276L306 1278L307 1282L308 1283L308 1280L309 1277L310 1276L310 1280L311 1282L312 1279L312 1278L313 1273L314 1268L314 1271L315 1279L316 1283L316 1284L317 1281L318 1283L318 1286L319 1282L320 1276L320 1275L321 1275L322 1274L322 1279L323 1281L324 1280L324 1284L325 1279L326 1275L326 1274L327 1274L328 1278L328 1281L329 1285L330 1284L330 1280L331 1275L332 1271L332 1273L333 1275L334 1280L334 1282L335 1286L336 1285L336 1283L337 1280L338 1280L339 1282L339 1281L340 1277L341 1283L341 1290L342 1281L343 1275L343 1272L344 1272L345 1281L346 1282L347 1291L347 1290L348 1280L349 1282L349 1283L350 1282L351 1281L351 1282L352 1286L353 1284L353 1283L354 1286L355 1285L355 1282L356 1284L357 1287L357 1283L358 1277L359 1274L360 1273L361 1278L361 1276L362 1270L363 1276L363 1282L364 1279L365 1277L365 1281L366 1276L367 1270L367 1272L368 1278L369 1285L369 1286L370 1280L371 1273L371 1272L372 1274L373 1273L373 1271L374 1277L375 1282L375 1280L376 1279L377 1273L377 1270L378 1276L379 1285L380 1281L381 1283L382 1286L383 1283L383 1280L384 1281L385 1276L385 1271L386 1272L387 1278L387 1280L388 1278L389 1280L389 1284L390 1279L391 1278L391 1286L392 1289L393 1281L393 1272L394 1275L395 1281L395 1284L396 1284L397 1278L397 1279L398 1281L399 1284L400 1283L401 1276L401 1271L402 1272L403 1274L403 1277L404 1286L405 1288L405 1282L406 1276L407 1277L407 1279L408 1286L409 1285L409 1282L410 1276L411 1269L411 1271L412 1275L413 1280L414 1276L415 1280L415 1285L416 1277L417 1274L417 1277L418 1276L419 1278L419 1285L420 1286L421 1276L422 1277L422 1281L423 1280L424 1279L424 1281L425 1284L426 1280L426 1279L427 1281L428 1281L428 1282L429 1285L430 1283L430 1281L431 1279L432 1275L432 1274L433 1275L434 1279L434 1276L435 1275L436 1281L437 1277L438 1285L438 1284L439 1282L440 1286L440 1282L441 1282L442 1288L442 1280L443 1280L444 1283L444 1278L445 1280L446 1287L446 1291L447 1281L448 1281L448 1284L449 1281L450 1277L450 1281L451 1283L452 1285L452 1289L453 1288L454 1285L454 1282L455 1277L456 1279L456 1281L457 1280L458 1280L458 1281L459 1290L460 1293L460 1284L461 1282L462 1283L462 1287L463 1286L464 1282L464 1281L465 1280L466 1279L466 1282L467 1281L468 1283L468 1285L469 1287L470 1285L470 1284L471 1281L472 1282L473 1282L474 1284L474 1282L475 1275L476 1277L476 1278L477 1281L478 1274L478 1271L479 1276L480 1284L480 1279L481 1279L482 1277L482 1272L483 1278L484 1284L485 1285L486 1282L486 1281L487 1281L488 1286L488 1291L489 1287L490 1282L490 1278L491 1280L492 1285L492 1278L493 1276L494 1279L494 1283L495 1286L496 1276L496 1281L497 1284L498 1277L498 1278L499 1286L500 1288L500 1278L501 1275L502 1286L502 1290L503 1279L504 1274L504 1284L505 1286L506 1286L507 1283L507 1279L508 1282L509 1290L509 1287L510 1274L511 1277L511 1287L512 1281L513 1275L513 1279L514 1281L515 1281L515 1279L516 1279L517 1280L517 1281L518 1279L519 1279L519 1283L520 1288L521 1286L521 1283L522 1285L523 1287L523 1288L524 1289L525 1293L525 1291L526 1283L527 1282L527 1286L528 1286L529 1280L529 1272L530 1272L531 1282L531 1287L532 1285L533 1280L533 1283L534 1282L535 1283L536 1278L537 1274L537 1270L538 1271L539 1273L539 1281L540 1284L541 1287L541 1284L542 1280L543 1282L544 1284L545 1283L545 1278L546 1280L547 1281L547 1282L548 1288L549 1290L549 1283L550 1276L551 1271L551 1276L552 1276L553 1272L553 1280L554 1283L555 1279L555 1277L556 1278L557 1281L557 1276L558 1281L559 1290L559 1286L560 1283L561 1280L561 1276L562 1280L563 1281L563 1278L564 1283L565 1289L565 1286L566 1275L567 1272L567 1275L568 1284L569 1287L569 1284L570 1277L571 1275L571 1280L572 1280L573 1278L573 1282L574 1285L575 1282L575 1274L576 1270L577 1277L577 1281L578 1280L579 1278L579 1279L580 1283L581 1282L581 1280L582 1276L583 1277L583 1279L584 1275L585 1273L585 1280L586 1286L587 1287L587 1288L588 1282L589 1277L590 1273L590 1279L591 1287L592 1286L593 1285L594 1282L594 1280L595 1282L596 1285L597 1284L598 1281L598 1277L599 1277L600 1278L600 1280L601 1273L602 1280L602 1290L603 1281L604 1275L604 1281L605 1286L606 1283L607 1281L608 1285L608 1294L609 1285L610 1278L611 1282L612 1284L612 1285L613 1280L614 1275L614 1280L615 1280L616 1276L616 1272L617 1274L618 1276L619 1274L620 1278L620 1279L621 1275L622 1274L622 1277L623 1278L624 1270L624 1271L625 1272L626 1277L626 1282L627 1279L628 1278L628 1280L629 1289L630 1289L630 1284L631 1274L632 1275L632 1282L633 1281L634 1279L635 1276L636 1281L636 1282L637 1281L638 1279L638 1280L639 1279L640 1285L640 1288L641 1287L642 1285L642 1279L643 1270L644 1278L644 1280L645 1279L646 1276L646 1272L647 1276L648 1284L648 1286L649 1278L650 1277L650 1283L651 1282L652 1287L652 1282L653 1277L654 1285L654 1286L655 1279L656 1283L657 1285L658 1278L658 1273L659 1280L660 1288L660 1293L661 1292L662 1285L662 1278L663 1276L664 1276L664 1275L665 1272L666 1268L666 1275L667 1284L668 1291L668 1286L669 1279L670 1278L670 1274L671 1271L672 1272L673 1283L673 1282L674 1275L675 1278L675 1284L676 1283L677 1280L677 1275L678 1275L679 1280L679 1281L680 1275L681 1274L681 1280L682 1279L683 1282L683 1283L684 1286L685 1289L685 1286L686 1282L687 1275L688 1283L689 1289L689 1291L690 1292L691 1284L691 1282L692 1283L693 1280L693 1276L694 1275L695 1279L695 1276L696 1276L697 1275L697 1279L698 1277L699 1277L699 1272L700 1276L701 1281L701 1277L702 1276L703 1272L703 1268L704 1276L705 1279L705 1275L706 1277L707 1274L707 1272L708 1275L709 1279L709 1284L710 1277L711 1280L712 1268L713 1268L713 1277L714 1277L715 1281L715 1283L716 1276L717 1268L717 1264L718 1272L719 1275L719 1278L720 1277L721 1275L721 1285L722 1287L723 1281L723 1273L724 1273L725 1274L725 1273L726 1273L727 1278L727 1280L728 1279L729 1278L729 1283L730 1276L731 1265L731 1270L732 1278L733 1281L733 1277L734 1275L735 1275L735 1278L736 1276L737 1273L737 1274L738 1278L739 1273L739 1270L740 1276L741 1276L741 1278L742 1282L743 1285L743 1283L744 1276L745 1273L745 1274L746 1283L747 1285L747 1284L748 1275L749 1270L749 1281L750 1281L751 1278L751 1279L752 1281L753 1278L753 1273L754 1278L755 1276L755 1277L756 1286L757 1284L758 1274L758 1269L759 1276L760 1280L760 1276L761 1270L762 1269L762 1271L763 1277L764 1283L764 1282L765 1276L766 1278L766 1279L767 1276L768 1279L768 1286L769 1283L770 1281L770 1277L771 1274L772 1270L772 1276L773 1286L774 1290L774 1287L775 1282L776 1277L776 1274L777 1276L778 1278L778 1276L779 1278L780 1271L780 1266L781 1267L782 1266L782 1270L783 1279L784 1278L784 1280L785 1285L786 1284L786 1279L787 1283L788 1281L788 1278L789 1276L790 1270L790 1271L791 1276L792 1279L792 1276L793 1277L794 1283L794 1286L795 1285L796 1283L796 1277L797 1276L798 1277L798 1275L799 1277L800 1283L800 1277L801 1273L802 1281L802 1286L803 1283L804 1282L804 1276L805 1273L806 1273L806 1278L807 1283L808 1278L808 1281L809 1275L810 1276L810 1282L811 1282L812 1277L812 1271L813 1274L814 1278L814 1286L815 1281L816 1276L816 1272L817 1271L818 1273L818 1279L819 1279L820 1278L820 1275L821 1276L822 1280L822 1272L823 1269L824 1274L824 1272L825 1275L826 1279L826 1277L827 1279L828 1279L828 1285L829 1285L830 1277L830 1274L831 1274L832 1279L832 1280L833 1275L834 1277L834 1272L835 1269L836 1272L836 1284L837 1282L838 1278L838 1277L839 1278L840 1271L841 1278L841 1287L842 1280L843 1278L843 1279L844 1276L845 1278L845 1282L846 1281L847 1279L847 1278L848 1279L849 1281L849 1286L850 1283L851 1274L851 1268L852 1278L853 1281L853 1272L854 1266L855 1271L855 1278L856 1274L857 1275L857 1280L858 1284L859 1280L859 1277L860 1278L861 1286L861 1285L862 1277L863 1270L863 1273L864 1278L865 1277L865 1281L866 1282L867 1281L867 1282L868 1280L869 1275L869 1279L870 1285L871 1276L872 1282L873 1278L873 1272L874 1272L875 1280L875 1286L876 1286L877 1282L877 1281L878 1276L879 1276L880 1279L881 1283L881 1282L882 1278L883 1281L883 1276L884 1272L885 1273L885 1271L886 1276L887 1279L887 1278L888 1279L889 1277L889 1275L890 1272L891 1274L891 1273L892 1274L893 1277L893 1276L894 1268L895 1268L895 1275L896 1280L897 1282L897 1284L898 1286L899 1282L899 1277L900 1272L901 1271L901 1274L902 1278L903 1279L903 1278L904 1278L905 1280L906 1280L907 1278L907 1274L908 1273L909 1279L909 1280L910 1277L911 1279L911 1285L912 1278L913 1276L914 1273L915 1279L915 1287L916 1286L917 1283L917 1281L918 1280L919 1281L919 1278L920 1275L921 1279L921 1282L922 1281L923 1277L924 1272L924 1283L925 1292L926 1286L926 1277L927 1273L928 1275L929 1278L930 1278L930 1283L931 1281L932 1271L932 1273L933 1272L934 1268L934 1271L935 1277L936 1278L936 1274L937 1282L938 1288L938 1284L939 1280L940 1275L940 1272L941 1277L942 1280L942 1285L943 1290L944 1285L944 1282L945 1281L946 1271L946 1268L947 1271L948 1274L948 1277L949 1279L950 1285L950 1287L951 1281L952 1276L952 1279L953 1278L954 1273L954 1276L955 1279L956 1280L956 1284L957 1281L958 1273L958 1271L959 1271L960 1272L960 1271L961 1275L962 1276L962 1275L963 1268L964 1266L964 1274L965 1273L966 1274L966 1272L967 1273L968 1275L968 1271L969 1267L970 1260L970 1262L971 1260L972 1258L972 1257L973 1260L974 1258L974 1247L975 1246L976 1246L976 1247L977 1241L978 1235L978 1229L979 1225L980 1217L980 1197L981 1170L982 1093L982 1075L983 1067L984 1048L984 992L985 891L986 791L986 739L987 699L988 662L988 549L989 384L990 288L990 239L991 220L992 250L992 302L993 359L994 418L994 472L995 510L996 542L996 582L997 625L998 663L998 696L999 730L1000 757L1000 783L1001 800L1002 804L1002 809L1003 826L1004 840L1004 844L1005 852L1006 864L1006 866L1007 877L1008 887L1009 899L1009 915L1010 929L1011 935L1011 943L1012 956L1013 975L1013 989L1014 1001L1015 1011L1015 1026L1016 1046L1017 1062L1017 1083L1018 1100L1019 1107L1019 1115L1020 1133L1021 1144L1021 1149L1022 1146L1023 1148L1023 1156L1024 1171L1025 1187L1025 1193L1026 1196L1027 1203L1027 1209L1028 1211L1029 1217L1030 1213L1031 1223L1031 1233L1032 1232L1033 1232L1033 1233L1034 1238L1035 1245L1035 1243L1036 1236L1037 1231L1037 1238L1038 1238L1039 1243L1039 1255L1040 1256L1041 1250L1041 1258L1042 1260L1043 1257L1043 1258L1044 1252L1045 1250L1045 1251L1046 1256L1047 1262L1047 1257L1048 1255L1049 1258L1049 1263L1050 1265L1051 1267L1051 1262L1052 1258L1053 1262L1053 1264L1054 1263L1055 1270L1055 1275L1056 1269L1057 1270L1057 1273L1058 1267L1059 1262L1059 1264L1060 1270L1061 1273L1061 1270L1062 1272L1063 1278L1063 1274L1064 1266L1065 1269L1065 1273L1066 1274L1067 1271L1067 1268L1068 1265L1069 1263L1069 1268L1070 1270L1071 1271L1071 1267L1072 1266L1073 1265L1073 1267L1074 1272L1075 1272L1075 1271L1076 1268L1077 1268L1077 1264L1078 1266L1079 1270L1079 1274L1080 1274L1081 1273L1081 1276L1082 1275L1083 1276L1084 1273L1085 1271L1085 1272L1086 1272L1087 1275L1087 1279L1088 1277L1089 1270L1089 1266L1090 1270L1091 1274L1092 1276L1092 1272L1093 1272L1094 1274L1094 1271L1095 1274L1096 1282L1096 1283L1097 1278L1098 1273L1098 1270L1099 1273L1100 1274L1100 1273L1101 1271L1102 1271L1102 1272L1103 1276L1104 1280L1104 1274L1105 1264L1106 1263L1107 1267L1108 1274L1109 1271L1110 1271L1110 1267L1111 1263L1112 1263L1112 1269L1113 1275L1114 1271L1114 1278L1115 1280L1116 1274L1116 1271L1117 1270L1118 1273L1118 1275L1119 1276L1120 1279L1120 1280L1121 1277L1122 1274L1122 1273L1123 1272L1124 1269L1124 1273L1125 1273L1126 1273L1126 1279L1127 1271L1128 1268L1128 1269L1129 1263L1130 1263L1131 1265L1132 1271L1132 1276L1133 1279L1134 1280L1135 1276L1136 1273L1136 1276L1137 1271L1138 1272L1138 1279L1139 1279L1140 1276L1140 1278L1141 1275L1142 1268L1143 1267L1144 1270L1144 1272L1145 1278L1146 1276L1146 1270L1147 1269L1148 1267L1148 1271L1149 1275L1150 1271L1150 1264L1151 1268L1152 1274L1152 1276L1153 1276L1154 1270L1154 1271L1155 1271L1156 1273L1156 1275L1157 1275L1158 1271L1158 1270L1159 1265L1160 1265L1160 1272L1161 1270L1162 1263L1162 1266L1163 1273L1164 1281L1165 1274L1166 1265L1166 1269L1167 1275L1168 1275L1168 1274L1169 1275L1170 1282L1170 1281L1171 1272L1172 1271L1172 1278L1173 1275L1174 1279L1175 1280L1175 1271L1176 1271L1177 1272L1177 1274L1178 1277L1179 1282L1179 1278L1180 1274L1181 1276L1181 1272L1182 1273L1183 1279L1183 1271L1184 1268L1185 1268L1185 1262L1186 1261L1187 1270L1187 1267L1188 1265L1189 1265L1189 1262L1190 1263L1191 1271L1191 1280L1192 1276L1193 1269L1193 1262L1194 1262L1195 1262L1195 1267L1196 1266L1197 1264L1197 1263L1198 1258L1199 1257L1199 1260L1200 1255L1201 1254L1201 1257L1202 1258L1203 1262L1203 1265L1204 1262L1205 1259L1206 1257L1207 1249L1207 1251L1208 1247L1209 1245L1209 1248L1210 1248L1211 1251L1211 1248L1212 1236L1213 1242L1213 1251L1214 1248L1215 1243L1215 1232L1216 1220L1217 1217L1217 1221L1218 1215L1219 1201L1219 1190L1220 1177L1221 1156L1221 1134L1222 1102L1223 1061L1223 1030L1224 1011L1225 986L1225 962L1226 947L1227 944L1227 938L1228 934L1229 920L1229 903L1230 893L1231 900L1231 902L1232 905L1233 912L1233 934L1234 956L1235 973L1235 997L1236 1021L1237 1037L1237 1045L1238 1053L1239 1052L1240 1053L1241 1051L1241 1061L1242 1074L1243 1075L1243 1074L1244 1076L1245 1073L1245 1081L1246 1091L1247 1094L1247 1095L1248 1105L1249 1113L1249 1112L1250 1114L1251 1110L1251 1114L1252 1129L1253 1137L1253 1141L1254 1144L1255 1152L1255 1165L1256 1173L1257 1171L1257 1174L1258 1191L1259 1201L1260 1207L1260 1215L1261 1226L1262 1225L1262 1223L1263 1218L1264 1222L1264 1228L1265 1234L1266 1237L1266 1239L1267 1245L1268 1241L1269 1244L1270 1244L1270 1250L1271 1253L1272 1254L1272 1260L1273 1257L1274 1253L1274 1247L1275 1245L1276 1249L1276 1253L1277 1256L1278 1256L1278 1247L1279 1246L1280 1251L1280 1261L1281 1259L1282 1255L1282 1257L1283 1263L1284 1262L1284 1259L1285 1256L1286 1265L1286 1268L1287 1269L1288 1270L1288 1265L1289 1264L1290 1268L1290 1267L1291 1264L1292 1264L1293 1269L1294 1270L1295 1271L1296 1262L1296 1265L1297 1272L1298 1264L1298 1261L1299 1270L1300 1269L1300 1263L1301 1266L1302 1261L1302 1259L1303 1263L1304 1262L1304 1260L1305 1261L1306 1262L1306 1265L1307 1268L1308 1269L1308 1264L1309 1258L1310 1259L1310 1267L1311 1275L1312 1273L1312 1268L1313 1268L1314 1266L1314 1269L1315 1269L1316 1271L1317 1268L1318 1267L1318 1263L1319 1267L1320 1279L1320 1289L1321 1278L1322 1267L1322 1265L1323 1268L1324 1261L1324 1262L1325 1266L1326 1266L1326 1274L1327 1274L1328 1266L1328 1262L1329 1258L1330 1260L1330 1268L1331 1272L1332 1271L1332 1268L1333 1266L1334 1266L1334 1262L1335 1268L1336 1276L1336 1275L1337 1267L1338 1268L1338 1276L1339 1275L1340 1263L1340 1264L1341 1270L1342 1272L1343 1267L1343 1268L1344 1272L1345 1278L1345 1273L1346 1267L1347 1268L1347 1273L1348 1271L1349 1264L1350 1261L1351 1260L1351 1258L1352 1258L1353 1261L1353 1263L1354 1270L1355 1272L1355 1266L1356 1264L1357 1266L1357 1257L1358 1257L1359 1269L1359 1273L1360 1273L1361 1266L1361 1261L1362 1264L1363 1268L1363 1264L1364 1261L1365 1258L1365 1262L1366 1270L1367 1269L1367 1261L1368 1260L1369 1264L1369 1267L1370 1263L1371 1261L1371 1256L1372 1259L1373 1269L1373 1270L1374 1263L1375 1264L1375 1269L1376 1266L1377 1266L1377 1269L1378 1271L1379 1274L1379 1272L1380 1266L1381 1266L1381 1265L1382 1260L1383 1263L1383 1267L1384 1264L1385 1270L1386 1269L1387 1271L1387 1273L1388 1273L1389 1268L1389 1266L1390 1270L1391 1277L1391 1274L1392 1265L1393 1263L1393 1264L1394 1267L1395 1273L1395 1275L1396 1266L1397 1270L1398 1265L1399 1265L1400 1269L1401 1270L1401 1265L1402 1270L1403 1271L1403 1274L1404 1274L1405 1275L1405 1274L1406 1274L1407 1269L1407 1265L1408 1271L1409 1276L1409 1275L1410 1262L1411 1265L1411 1270L1412 1264L1413 1268L1413 1279L1414 1276L1415 1269L1415 1275L1416 1277L1417 1274L1417 1271L1418 1268L1419 1264L1419 1265L1420 1271L1421 1273L1421 1276L1422 1266L1423 1256L1423 1263L1424 1269L1425 1270L1426 1268L1426 1267L1427 1272L1428 1269L1429 1266L1430 1265L1430 1268L1431 1258L1432 1261L1432 1268L1433 1269L1434 1271L1434 1268L1435 1270L1436 1276L1436 1271L1437 1265L1438 1262L1438 1264L1439 1271L1440 1272L1440 1268L1441 1266L1442 1267L1442 1261L1443 1263L1444 1265L1444 1264L1445 1266L1446 1264L1446 1267L1447 1276L1448 1277L1448 1275L1449 1272L1450 1274L1450 1276L1451 1279L1452 1280L1452 1272L1453 1269L1454 1262L1454 1251L1455 1256L1456 1267L1456 1270L1457 1269L1458 1275L1459 1271L1460 1277L1460 1279L1461 1272L1462 1268L1462 1273L1463 1270L1464 1267L1465 1268L1466 1274L1466 1276L1467 1276L1468 1272L1468 1266L1469 1268L1470 1271L1470 1273L1471 1280L1472 1272L1472 1268L1473 1274L1474 1274L1474 1269L1475 1268L1476 1272L1476 1274L1477 1273L1478 1269L1478 1271L1479 1274L1480 1268L1480 1255L1481 1258L1482 1263L1482 1267L1483 1271L1484 1274L1484 1273L1485 1269L1486 1272L1486 1275L1487 1270L1488 1272L1488 1277L1489 1269L1490 1261L1490 1266L1491 1267L1492 1269L1492 1274L1493 1272L1494 1270L1494 1273L1495 1272L1496 1270L1496 1271L1497 1270L1498 1267L1498 1266L1499 1266L1500 1262L1500 1264L1501 1272L1502 1270L1502 1268L1503 1268L1504 1269L1505 1268L1506 1267L1506 1270L1507 1269L1508 1269L1508 1260L1509 1263L1510 1271L1511 1269L1511 1266L1512 1267L1513 1265L1513 1264L1514 1259L1515 1262L1515 1266L1516 1272L1517 1272L1517 1269L1518 1273L1519 1266L1519 1255L1520 1258L1521 1271L1521 1270L1522 1265L1523 1263L1523 1265L1524 1273L1525 1274L1525 1276L1526 1267L1527 1260L1527 1268L1528 1268L1529 1270L1529 1275L1530 1273L1531 1274L1531 1270L1532 1267L1533 1269L1534 1275L1535 1275L1535 1272L1536 1273L1537 1272L1537 1270L1538 1272L1539 1271L1539 1270L1540 1266L1541 1268L1541 1270L1542 1266L1543 1265L1543 1267L1544 1270L1545 1268L1545 1272L1546 1277L1547 1270L1547 1263L1548 1269L1549 1273L1549 1272L1550 1274L1551 1274L1551 1272L1552 1268L1553 1266L1553 1267L1554 1270L1555 1272L1555 1271L1556 1269L1557 1270L1557 1268L1558 1261L1559 1262L1559 1264L1560 1266L1561 1267L1561 1266L1562 1266L1563 1271L1563 1269L1564 1262L1565 1264L1565 1267L1566 1273L1567 1269L1567 1266L1568 1268L1569 1268L1569 1271L1570 1275L1571 1273L1571 1274L1572 1273L1573 1269L1573 1275L1574 1275L1575 1271L1575 1267L1576 1270L1577 1270L1578 1277L1579 1273L1579 1267L1580 1269L1581 1273L1581 1274L1582 1273L1583 1275L1583 1273L1584 1262L1585 1260L1585 1261L1586 1267L1587 1273L1587 1269L1588 1262L1589 1264L1589 1268L1590 1265L1591 1264L1591 1263L1592 1259L1593 1266L1594 1269L1594 1267L1595 1261L1596 1259L1596 1262L1597 1265L1598 1266L1598 1269L1599 1276L1600 1273L1600 1263L1601 1264L1602 1271L1602 1270L1603 1274L1604 1274L1604 1266L1605 1264L1606 1264L1606 1261L1607 1260L1608 1264L1608 1269L1609 1266L1610 1264L1610 1262L1611 1263L1612 1267L1612 1258L1613 1261L1614 1266L1614 1263L1615 1270L1616 1273L1616 1267L1617 1265L1618 1264L1618 1269L1619 1270L1620 1272L1620 1276L1621 1275L1622 1276L1622 1272L1623 1265L1624 1269L1625 1266L1626 1272L1627 1269L1628 1266L1628 1268L1629 1270L1630 1268L1630 1265L1631 1262L1632 1269L1632 1263L1633 1256L1634 1260L1634 1265L1635 1268L1636 1267L1637 1269L1638 1278L1638 1279L1639 1277L1640 1269L1641 1267L1642 1271L1642 1270L1643 1261L1644 1259L1645 1259L1646 1262L1646 1261L1647 1261L1648 1268L1648 1269L1649 1263L1650 1264L1650 1268L1651 1267L1652 1267L1652 1273L1653 1275L1654 1273L1655 1280L1656 1279L1656 1270L1657 1270L1658 1273L1658 1268L1659 1270L1660 1269L1660 1266L1661 1264L1662 1261L1663 1263L1664 1278L1664 1282L1665 1278L1666 1274L1666 1276L1667 1278L1668 1277L1668 1273L1669 1267L1670 1268L1670 1265L1671 1261L1672 1263L1672 1271L1673 1272L1674 1268L1674 1277L1675 1278L1676 1269L1677 1266L1677 1270L1678 1273L1679 1267L1679 1264L1680 1265L1681 1261L1681 1268L1682 1275L1683 1274L1684 1274L1685 1273L1685 1269L1686 1265L1687 1266L1687 1270L1688 1277L1689 1279L1689 1272L1690 1265L1691 1264L1691 1269L1692 1275L1693 1273L1693 1268L1694 1267L1695 1272L1696 1269L1697 1272L1697 1276L1698 1274L1699 1278L1699 1277L1700 1273L1701 1273L1701 1269L1702 1265L1703 1265L1704 1270L1705 1271L1705 1273L1706 1268L1707 1257L1707 1262L1708 1262L1709 1265L1709 1266L1710 1270L1711 1272L1711 1264L1712 1267L1713 1266L1713 1262L1714 1269L1715 1269L1715 1266L1716 1271L1717 1281L1717 1270L1718 1259L1719 1261L1719 1265L1720 1267L1721 1266L1721 1265L1722 1269L1723 1265L1723 1261L1724 1262L1725 1267L1725 1273L1726 1272L1727 1268L1727 1269L1728 1274L1729 1277L1729 1271L1730 1271L1731 1271L1731 1266L1732 1268L1733 1269L1733 1268L1734 1272L1735 1276L1735 1275L1736 1270L1737 1274L1737 1278L1738 1269L1739 1270L1739 1274L1740 1272L1741 1272L1742 1275L1743 1275L1743 1271L1744 1269L1745 1268L1745 1267L1746 1266L1747 1265L1747 1273L1748 1281L1749 1282L1749 1276L1750 1270L1751 1273L1751 1268L1752 1271L1753 1275L1753 1269L1754 1271L1755 1271L1755 1267L1756 1266L1757 1268L1757 1269L1758 1275L1759 1274L1759 1264L1760 1264L1761 1265L1762 1261L1762 1262L1763 1267L1764 1265L1764 1260L1765 1265L1766 1268L1766 1263L1767 1265L1768 1276L1768 1274L1769 1262L1770 1261L1770 1266L1771 1264L1772 1265L1772 1267L1773 1266L1774 1255L1774 1253L1775 1261L1776 1271L1776 1267L1777 1262L1778 1269L1778 1272L1779 1268L1780 1268L1780 1272L1781 1275L1782 1272L1782 1271L1783 1269L1784 1265L1784 1264L1785 1268L1786 1267L1786 1269L1787 1273L1788 1274L1788 1270L1789 1264L1790 1267L1790 1266L1791 1263L1792 1266L1792 1274L1793 1273L1794 1265L1794 1262L1795 1266L1796 1269L1796 1272L1797 1262L1798 1257L1798 1264L1799 1268L1800 1270L1800 1276L1801 1278L1802 1270L1802 1262L1803 1260L1804 1268L1804 1272L1805 1271L1806 1273L1807 1276L1808 1271L1808 1263L1809 1261L1810 1257L1810 1258L1811 1268L1812 1276L1812 1278L1813 1271L1814 1265L1815 1271L1816 1271L1816 1267L1817 1271L1818 1269L1818 1262L1819 1268L1820 1269L1820 1266L1821 1269L1822 1278L1822 1281L1823 1277L1824 1265L1825 1269L1826 1263L1826 1260L1827 1262L1828 1275L1828 1277L1829 1272L1830 1269L1830 1266L1831 1267L1832 1269L1832 1268L1833 1271L1834 1266L1834 1265L1835 1272L1836 1270L1836 1269L1837 1263L1838 1258L1838 1264L1839 1265L1840 1267L1840 1260L1841 1257L1842 1267L1842 1270L1843 1267L1844 1264L1845 1267L1845 1262L1846 1262L1847 1263L1847 1266L1848 1270L1849 1267L1849 1270L1850 1269L1851 1259L1852 1263L1853 1265L1853 1264L1854 1261L1855 1269L1855 1272L1856 1266L1857 1261L1857 1264L1858 1266L1859 1269L1860 1270L1861 1269L1862 1258L1863 1260L1863 1265L1864 1263L1865 1266L1865 1263L1866 1264L1867 1263L1867 1264L1868 1267L1869 1266L1869 1269L1870 1276L1871 1269L1871 1265L1872 1271L1873 1275L1873 1277L1874 1275L1875 1268L1875 1272L1876 1274L1877 1270L1877 1263L1878 1254L1879 1263L1879 1271L1880 1262L1881 1262L1881 1268L1882 1273L1883 1272L1883 1262L1884 1266L1885 1269L1885 1263L1886 1268L1887 1277L1888 1267L1889 1256L1889 1263L1890 1268L1891 1266L1891 1272L1892 1280L1893 1270L1893 1263L1894 1266L1895 1265L1896 1267L1897 1271L1897 1267L1898 1262L1899 1265L1899 1268L1900 1268L1901 1272L1901 1271L1902 1264L1903 1270L1903 1279L1904 1277L1905 1271L1905 1269L1906 1263L1907 1260L1907 1267L1908 1270L1909 1269L1909 1268L1910 1267L1911 1266L1911 1269L1912 1271L1913 1269L1913 1267L1914 1259L1915 1263L1915 1275L1916 1277L1917 1271L1917 1265L1918 1262L1919 1267L1919 1268L1920 1263L1921 1267L1921 1271L1922 1268L1923 1264L1924 1264L1925 1271L1925 1268L1926 1264L1927 1273L1928 1273L1928 1270L1929 1273L1930 1267L1930 1268L1931 1268L1932 1261L1932 1267L1933 1268L1934 1265L1934 1262L1935 1264L1936 1261L1936 1260L1937 1261L1938 1263L1938 1269L1939 1262L1940 1260L1940 1264L1941 1267L1942 1271L1943 1266L1944 1264L1944 1267L1945 1271L1946 1270L1946 1262L1947 1260L1948 1274L1948 1275L1949 1270L1950 1267L1950 1263L1951 1261L1952 1263L1952 1264L1953 1261L1954 1258L1954 1263L1955 1267L1956 1265L1956 1262L1957 1257L1958 1262L1958 1263L1959 1258L1960 1257L1960 1264L1961 1264L1962 1266L1963 1268L1964 1263L1964 1259L1965 1263L1966 1266L1966 1268L1967 1265L1968 1265L1968 1271L1969 1274L1970 1273L1971 1271L1972 1272L1973 1269L1974 1267L1974 1271L1975 1277L1976 1270L1976 1264L1977 1264L1978 1265L1979 1258L1980 1255L1980 1260L1981 1259L1982 1264L1982 1268L1983 1273L1984 1275L1984 1268L1985 1261L1986 1257L1986 1259L1987 1260L1988 1256L1988 1261L1989 1265L1990 1266L1990 1264L1991 1262L1992 1260L1992 1257L1993 1255L1994 1263L1994 1269L1995 1266L1996 1261L1996 1260L1997 1263L1998 1260L1998 1261L1999 1258L2000 1255L2000 1260L2001 1258L2002 1257L2002 1256L2003 1253L2004 1251L2004 1252L2005 1249L2006 1247L2006 1241L2007 1235L2008 1235L2009 1236L2010 1233L2010 1221L2011 1215L2012 1205L2013 1200L2013 1192L2014 1175L2015 1163L2015 1153L2016 1126L2017 1098L2017 1080L2018 1070L2019 1051L2019 1038L2020 1036L2021 1027L2021 1023L2022 1031L2023 1039L2023 1049L2024 1058L2025 1074L2025 1097L2026 1107L2027 1111L2027 1121L2028 1134L2029 1138L2029 1143L2030 1149L2031 1148L2031 1147L2032 1156L2033 1164L2033 1168L2034 1171L2035 1169L2035 1173L2036 1176L2037 1175L2037 1183L2038 1187L2039 1187L2039 1191L2040 1188L2041 1184L2041 1191L2042 1194L2043 1194L2043 1198L2044 1204L2045 1202L2045 1200L2046 1205L2047 1208L2047 1205L2048 1206L2049 1208L2049 1211L2050 1218L2051 1227L2051 1233L2052 1233L2053 1233L2053 1236L2054 1236L2055 1232L2055 1235L2056 1236L2057 1234L2057 1232L2058 1233L2059 1234L2060 1240L2061 1242L2061 1243L2062 1245L2063 1246L2063 1243L2064 1241L2065 1234L2065 1230L2066 1237L2067 1248L2067 1244L2068 1250L2069 1256L2069 1253L2070 1260L2071 1263L2071 1262L2072 1264L2073 1257L2073 1251L2074 1253L2075 1250L2075 1245L2076 1250L2077 1261L2077 1256L2078 1252L2079 1252L2079 1254L2080 1254L2081 1252L2081 1248L2082 1247L2083 1252L2083 1261L2084 1269L2085 1269L2085 1268L2086 1263L2087 1256L2087 1252L2088 1253L2089 1249L2089 1257L2090 1266L2091 1266L2091 1264L2092 1258L2093 1252L2093 1255L2094 1260L2095 1268L2096 1270L2096 1260L2097 1257L2098 1259L2098 1257L2099 1255L2100 1260L2100 1263L2101 1261L2102 1256L2103 1255L2104 1261L2104 1258L2105 1258L2106 1258L2106 1257L2107 1253L2108 1255L2108 1267L2109 1267L2110 1267L2110 1272L2111 1266L2112 1265L2112 1266L2113 1269L2114 1267L2114 1264L2115 1263L2116 1266L2116 1265L2117 1256L2118 1258L2118 1261L2119 1258L2120 1255L2120 1262L2121 1261L2122 1260L2122 1258L2123 1255L2124 1255L2124 1253L2125 1256L2126 1261L2126 1263L2127 1264L2128 1267L2128 1274L2129 1267L2130 1258L2131 1260L2132 1261L2132 1260L2133 1262L2134 1270L2134 1267L2135 1262L2136 1262L2136 1265L2137 1271L2138 1271L2138 1265L2139 1253L2140 1262L2140 1273L2141 1275L2142 1265L2142 1258L2143 1263L2144 1260L2144 1254L2145 1260L2146 1270L2146 1273L2147 1268L2148 1265L2148 1271L2149 1263L2150 1259L2150 1260L2151 1268L2152 1270L2152 1269L2153 1266L2154 1264L2154 1262L2155 1258L2156 1267L2156 1269L2157 1264L2158 1264L2158 1268L2159 1272L2160 1269L2160 1264L2161 1259L2162 1256L2162 1259L2163 1263L2164 1263L2164 1265L2165 1268L2166 1268L2166 1267L2167 1268L2168 1266L2168 1265L2169 1263L2170 1260L2170 1264L2171 1262L2172 1265L2172 1267L2173 1269L2174 1264L2174 1262L2175 1267L2176 1267L2176 1265L2177 1266L2178 1270L2179 1270L2179 1264L2180 1257L2181 1259L2181 1267L2182 1272L2183 1268L2183 1266L2184 1268L2185 1265L2185 1264L2186 1262L2187 1259L2187 1266L2188 1266L2189 1261L2189 1258L2190 1265L2191 1269L2191 1261L2192 1258L2193 1260L2193 1253L2194 1250L2195 1256L2195 1259L2196 1260L2197 1261L2197 1263L2198 1261L2199 1259L2199 1261L2200 1266L2201 1269L2202 1261L2203 1248L2203 1252L2204 1260L2205 1260L2205 1258L2206 1266L2207 1265L2207 1260L2208 1261L2209 1259L2210 1262L2211 1258L2211 1253L2212 1256L2213 1258L2213 1259L2214 1263L2215 1262L2215 1268L2216 1266L2217 1259L2217 1262L2218 1266L2219 1260L2219 1255L2220 1259" stroke="#003cff" fill="none" stroke-width="12" stroke-linejoin="round" stroke-linecap="round" shape-rendering="crispEdges"/>
<path d="M212 924L213 924L213 918L214 912L215 912L216 924L217 932L217 920L218 916L219 925L219 926L220 920L221 913L221 920L222 922L223 910L223 905L224 898L225 896L225 899L226 907L227 909L227 918L228 921L229 909L229 895L230 905L231 917L231 914L232 904L233 906L233 905L234 911L235 922L235 915L236 918L237 923L237 915L238 915L239 918L239 914L240 907L241 918L241 924L242 911L243 919L243 918L244 918L245 934L245 926L246 908L247 914L247 920L248 918L249 921L249 920L250 926L251 928L251 915L252 913L253 912L253 910L254 903L255 905L256 914L256 925L257 923L258 904L258 905L259 910L260 897L260 902L261 916L262 927L262 923L263 912L264 908L264 915L265 924L266 913L266 910L267 914L268 912L268 907L269 902L270 907L270 912L271 923L272 922L272 916L273 916L274 915L274 920L275 917L276 912L276 903L277 904L278 891L278 886L279 898L280 903L280 917L281 928L282 909L282 903L283 912L284 915L284 910L285 910L286 917L286 913L287 902L288 906L289 901L290 905L290 906L291 916L292 915L292 909L293 904L294 899L294 887L295 893L296 901L296 894L297 902L298 899L298 906L299 906L300 913L300 907L301 899L302 919L302 925L303 911L304 905L304 902L305 902L306 912L306 906L307 902L308 898L308 895L309 898L310 913L311 915L312 908L312 900L313 899L314 901L314 903L315 902L316 898L316 890L317 900L318 915L318 902L319 896L320 910L320 914L321 897L322 897L322 893L323 891L324 906L324 908L325 903L326 900L326 905L327 901L328 898L328 891L329 895L330 910L330 906L331 905L332 904L332 899L333 901L334 907L334 903L335 902L336 908L336 917L337 915L338 908L339 896L339 893L340 911L341 915L341 908L342 911L343 915L343 917L344 913L345 908L345 911L346 901L347 908L347 914L348 919L349 928L349 919L350 892L351 887L351 901L352 897L353 902L353 904L354 884L355 880L355 898L356 903L357 901L357 899L358 890L359 886L359 892L360 888L361 886L361 901L362 905L363 902L363 893L364 889L365 888L365 891L366 898L367 897L367 903L368 913L369 916L369 900L370 904L371 904L371 896L372 887L373 895L373 906L374 904L375 901L375 903L376 910L377 897L377 880L378 881L379 870L379 864L380 890L381 911L381 902L382 888L383 892L383 908L384 906L385 901L385 900L386 904L387 910L387 909L388 901L389 894L389 899L390 900L391 903L391 892L392 895L393 895L394 916L395 917L395 904L396 906L397 897L397 879L398 893L399 900L399 896L400 890L401 893L401 901L402 910L403 907L403 906L404 911L405 899L405 888L406 888L407 910L407 916L408 913L409 909L409 903L410 900L411 897L412 904L413 914L413 909L414 898L415 891L415 897L416 912L417 909L417 900L418 892L419 887L419 897L420 904L421 897L422 894L422 896L423 893L424 884L424 888L425 893L426 900L426 897L427 906L428 912L428 898L429 892L430 898L430 895L431 891L432 905L432 916L433 902L434 891L434 889L435 892L436 884L436 888L437 902L438 898L438 909L439 915L440 907L440 910L441 916L442 900L442 887L443 884L444 898L444 914L445 907L446 889L446 885L447 891L448 897L449 899L450 899L450 895L451 896L452 898L452 899L453 907L454 917L454 909L455 893L456 884L456 887L457 876L458 881L458 902L459 905L460 892L460 880L461 885L462 891L462 907L463 919L464 903L464 886L465 883L466 891L467 886L468 889L468 890L469 906L470 913L470 908L471 898L472 898L472 895L473 891L474 887L474 878L475 882L476 897L476 898L477 901L478 899L478 882L479 884L480 896L480 899L481 897L482 904L482 897L483 883L484 886L484 901L485 896L486 885L486 903L487 910L488 908L488 896L489 888L490 894L490 913L491 908L492 907L492 896L493 889L494 880L494 890L495 898L496 892L496 902L497 899L498 886L499 890L500 892L500 888L501 885L502 886L502 881L503 880L504 894L504 898L505 885L506 888L507 886L507 888L508 898L509 899L509 904L510 895L511 895L511 892L512 890L513 897L513 898L514 900L515 893L515 885L516 891L517 899L517 901L518 891L519 886L519 882L520 891L521 882L521 876L522 892L523 899L523 882L524 878L525 881L525 884L526 892L527 887L527 888L528 895L529 892L529 893L530 884L531 875L531 882L532 904L533 900L533 896L534 896L535 897L535 903L536 908L537 887L537 875L538 876L539 883L539 900L540 902L541 885L541 879L542 892L543 896L543 877L544 886L545 891L545 897L546 888L547 884L547 878L548 886L549 907L549 906L550 892L551 880L551 874L552 885L553 893L553 894L554 890L555 885L555 891L556 899L557 913L557 915L558 898L559 888L559 890L560 887L561 886L561 888L562 888L563 896L563 897L564 896L565 892L565 885L566 884L567 888L567 890L568 895L569 891L569 883L570 886L571 882L571 884L572 883L573 876L573 889L574 896L575 893L575 890L576 887L577 884L577 887L578 890L579 890L579 886L580 893L581 897L581 893L582 893L583 893L583 884L584 894L585 900L586 897L587 890L587 893L588 901L589 902L590 893L590 884L591 898L592 911L592 909L593 895L594 885L594 897L595 888L596 874L596 884L597 879L598 876L598 889L599 902L600 897L600 902L601 917L602 914L602 899L603 888L604 881L604 886L605 898L606 900L606 901L607 901L608 891L608 894L609 903L610 906L610 908L611 901L612 895L612 893L613 882L614 879L614 894L615 897L616 891L616 880L617 884L618 885L618 877L619 871L620 887L620 903L621 899L622 891L622 895L623 892L624 873L624 886L625 901L626 908L626 916L627 911L628 902L628 901L629 901L630 892L630 895L631 909L632 914L632 900L633 894L634 901L634 907L635 904L636 904L636 891L637 889L638 895L638 904L639 901L640 882L641 892L642 884L642 882L643 900L644 904L644 899L645 895L646 901L646 900L647 900L648 887L648 884L649 891L650 891L650 899L651 896L652 887L652 890L653 894L654 899L654 890L655 892L656 911L656 925L657 919L658 902L658 901L659 908L660 895L660 885L661 893L662 895L662 882L663 872L664 878L664 892L665 889L666 891L666 897L667 899L668 895L668 894L669 886L670 884L670 887L671 900L672 895L673 886L673 887L674 893L675 893L675 878L676 877L677 895L677 917L678 910L679 898L679 906L680 913L681 897L681 893L682 904L683 904L683 899L684 898L685 914L685 916L686 906L687 894L687 880L688 891L689 895L689 898L690 899L691 886L691 878L692 887L693 886L693 885L694 885L695 879L695 875L696 896L697 902L697 910L698 913L699 893L699 873L700 874L701 876L701 883L702 884L703 876L703 882L704 881L705 888L705 890L706 888L707 887L707 884L708 878L709 874L709 891L710 913L711 919L711 911L712 899L713 892L713 900L714 894L715 888L715 887L716 888L717 885L717 883L718 878L719 890L719 907L720 895L721 888L721 894L722 892L723 880L723 885L724 895L725 893L725 894L726 898L727 886L727 882L728 886L729 889L729 870L730 869L731 879L731 889L732 895L733 891L733 875L734 881L735 878L735 875L736 878L737 865L737 855L738 861L739 859L739 865L740 875L741 882L741 885L742 868L743 851L744 850L745 851L745 858L746 848L747 839L747 852L748 854L749 851L749 849L750 846L751 843L751 844L752 836L753 827L753 815L754 796L755 793L755 790L756 780L757 769L758 774L758 756L759 727L760 712L760 713L761 708L762 698L762 694L763 690L764 692L764 688L765 697L766 720L766 733L767 718L768 720L768 735L769 752L770 753L770 764L771 777L772 779L772 786L773 792L774 789L774 798L775 817L776 830L776 828L777 822L778 836L778 854L779 858L780 852L780 850L781 859L782 854L782 848L783 859L784 877L784 879L785 879L786 874L786 877L787 871L788 880L788 899L789 890L790 875L790 877L791 886L792 890L792 874L793 863L794 873L794 882L795 888L796 896L796 894L797 889L798 881L798 896L799 909L800 901L800 892L801 895L802 900L802 885L803 885L804 894L805 888L806 889L806 888L807 888L808 884L808 879L809 888L810 894L810 884L811 887L812 891L812 884L813 885L814 886L814 905L815 922L816 916L816 899L817 897L818 895L818 898L819 901L820 889L820 896L821 900L822 905L822 896L823 888L824 895L824 900L825 897L826 895L826 882L827 875L828 895L828 902L829 896L830 897L830 900L831 890L832 884L832 893L833 898L834 889L834 896L835 888L836 885L836 900L837 892L838 880L838 889L839 904L840 905L841 895L841 898L842 898L843 891L843 894L844 892L845 887L846 892L847 892L847 887L848 891L849 902L850 906L851 909L851 910L852 912L853 897L853 896L854 900L855 914L855 908L856 879L857 880L857 898L858 905L859 902L859 897L860 899L861 900L861 898L862 894L863 879L863 887L864 890L865 897L865 891L866 886L867 890L867 883L868 876L869 876L869 889L870 900L871 903L871 899L872 901L873 896L873 894L874 901L875 902L875 892L876 888L877 890L877 889L878 888L879 897L879 894L880 892L881 888L881 893L882 895L883 896L883 909L884 908L885 912L885 904L886 888L887 887L887 894L888 893L889 891L889 882L890 873L891 875L891 872L892 884L893 883L893 881L894 887L895 887L895 873L896 866L897 867L897 865L898 880L899 896L899 888L900 886L901 881L901 886L902 887L903 889L903 899L904 906L905 896L905 886L906 882L907 889L907 890L908 894L909 896L909 895L910 875L911 880L911 892L912 883L913 877L913 876L914 873L915 890L915 910L916 899L917 876L917 871L918 881L919 888L919 877L920 877L921 891L922 877L923 865L924 861L925 861L926 876L926 878L927 887L928 900L928 890L929 874L930 884L930 886L931 869L932 863L933 863L934 870L934 851L935 851L936 861L936 865L937 868L938 867L939 864L940 846L940 849L941 852L942 855L942 853L943 842L944 843L944 853L945 847L946 844L946 862L947 857L948 828L948 834L949 849L950 836L950 819L951 808L952 801L952 797L953 796L954 798L954 789L955 779L956 774L956 777L957 775L958 783L958 794L959 793L960 793L960 792L961 789L962 787L962 789L963 792L964 789L964 799L965 793L966 782L966 779L967 780L968 782L968 781L969 785L970 766L970 748L971 747L972 744L972 755L973 764L974 751L974 727L975 726L976 737L976 723L977 708L978 710L979 688L980 660L980 644L981 626L982 597L982 574L983 559L984 536L984 518L985 507L986 493L986 451L987 423L988 404L988 390L989 373L990 344L990 321L991 306L992 311L992 325L993 328L994 330L994 347L995 372L996 394L996 409L997 427L998 441L998 475L999 512L1000 518L1000 545L1001 576L1002 591L1002 607L1003 630L1004 649L1004 658L1005 662L1006 682L1006 695L1007 709L1008 729L1009 746L1009 754L1010 756L1011 772L1011 786L1012 795L1013 798L1013 791L1014 794L1015 800L1015 795L1016 803L1017 807L1017 804L1018 800L1019 809L1019 826L1020 840L1021 843L1021 836L1022 832L1023 833L1023 841L1024 845L1025 856L1025 865L1026 850L1027 835L1028 834L1029 845L1029 865L1030 860L1031 850L1031 866L1032 874L1033 862L1033 856L1034 861L1035 870L1035 878L1036 885L1037 888L1037 889L1038 889L1039 877L1039 861L1040 867L1041 874L1041 875L1042 880L1043 872L1044 888L1045 889L1045 885L1046 891L1047 892L1047 877L1048 857L1049 864L1049 871L1050 871L1051 884L1051 891L1052 878L1053 878L1053 895L1054 882L1055 872L1055 883L1056 886L1057 882L1057 887L1058 880L1059 876L1059 886L1060 890L1061 884L1061 886L1062 896L1063 908L1063 895L1064 896L1065 891L1065 888L1066 896L1067 902L1067 903L1068 893L1069 882L1069 883L1070 893L1071 900L1071 904L1072 901L1073 905L1073 907L1074 891L1075 873L1075 869L1076 879L1077 896L1077 892L1078 900L1079 905L1079 911L1080 905L1081 892L1081 889L1082 891L1083 891L1083 887L1084 894L1085 899L1085 883L1086 884L1087 885L1087 893L1088 899L1089 897L1089 893L1090 884L1091 894L1092 893L1092 896L1093 887L1094 867L1094 877L1095 897L1096 907L1096 901L1097 891L1098 886L1098 906L1099 913L1100 898L1100 885L1101 881L1102 904L1102 922L1103 913L1104 908L1104 898L1105 891L1106 897L1106 886L1107 888L1108 898L1108 903L1109 901L1110 895L1110 883L1111 879L1112 887L1112 883L1113 875L1114 876L1114 878L1115 871L1116 869L1116 875L1117 890L1118 904L1118 907L1119 885L1120 885L1120 898L1121 893L1122 895L1122 906L1123 892L1124 877L1124 879L1125 892L1126 892L1126 879L1127 882L1128 896L1128 898L1129 892L1130 898L1130 894L1131 878L1132 885L1132 893L1133 882L1134 871L1134 885L1135 904L1136 901L1136 888L1137 904L1138 895L1138 901L1139 910L1140 906L1140 893L1141 885L1142 891L1142 879L1143 878L1144 910L1144 914L1145 907L1146 895L1146 907L1147 916L1148 911L1148 893L1149 880L1150 878L1150 866L1151 869L1152 883L1152 882L1153 886L1154 896L1154 912L1155 908L1156 899L1156 898L1157 886L1158 888L1158 892L1159 881L1160 878L1160 877L1161 891L1162 901L1162 889L1163 885L1164 878L1164 871L1165 879L1166 905L1166 915L1167 898L1168 885L1168 890L1169 889L1170 894L1170 893L1171 892L1172 890L1172 881L1173 874L1174 867L1175 870L1176 875L1177 875L1177 882L1178 882L1179 869L1179 867L1180 873L1181 891L1181 901L1182 893L1183 885L1183 886L1184 876L1185 884L1185 868L1186 860L1187 896L1187 895L1188 872L1189 872L1189 873L1190 868L1191 857L1191 862L1192 873L1193 878L1193 880L1194 881L1195 885L1195 869L1196 858L1197 844L1197 850L1198 865L1199 858L1199 860L1200 855L1201 845L1201 846L1202 845L1203 847L1203 856L1204 853L1205 839L1205 834L1206 840L1207 842L1207 854L1208 863L1209 847L1209 830L1210 821L1211 811L1211 805L1212 803L1213 804L1213 806L1214 809L1215 800L1215 790L1216 788L1217 801L1218 800L1219 794L1219 786L1220 772L1221 777L1221 779L1222 756L1223 760L1223 764L1224 752L1225 749L1225 744L1226 729L1227 725L1227 716L1228 711L1229 713L1229 717L1230 723L1231 720L1231 717L1232 740L1233 745L1233 737L1234 729L1235 733L1235 743L1236 741L1237 734L1237 760L1238 776L1239 756L1239 767L1240 774L1241 778L1241 785L1242 777L1243 789L1243 803L1244 797L1245 795L1245 801L1246 809L1247 819L1247 814L1248 817L1249 815L1249 825L1250 819L1251 806L1251 819L1252 824L1253 835L1253 848L1254 834L1255 836L1255 856L1256 860L1257 866L1257 858L1258 847L1259 856L1260 872L1261 864L1262 862L1262 860L1263 866L1264 881L1264 870L1265 856L1266 863L1266 877L1267 879L1268 871L1268 866L1269 865L1270 855L1270 861L1271 877L1272 877L1272 884L1273 893L1274 889L1274 890L1275 902L1276 893L1276 883L1277 889L1278 886L1278 877L1279 880L1280 876L1280 866L1281 875L1282 880L1282 875L1283 868L1284 877L1284 886L1285 884L1286 880L1286 885L1287 879L1288 887L1288 897L1289 886L1290 886L1290 896L1291 889L1292 887L1292 895L1293 893L1294 872L1295 876L1296 875L1296 877L1297 883L1298 889L1298 886L1299 892L1300 894L1300 889L1301 898L1302 910L1302 900L1303 889L1304 888L1304 887L1305 897L1306 900L1306 890L1307 894L1308 902L1308 895L1309 891L1310 884L1310 883L1311 896L1312 911L1312 898L1313 888L1314 889L1314 895L1315 902L1316 907L1316 916L1317 911L1318 911L1318 906L1319 898L1320 886L1320 891L1321 895L1322 887L1322 881L1323 896L1324 895L1324 891L1325 893L1326 896L1327 885L1328 886L1328 898L1329 899L1330 893L1330 889L1331 889L1332 899L1332 905L1333 898L1334 911L1334 909L1335 900L1336 899L1336 882L1337 874L1338 880L1338 889L1339 893L1340 893L1340 890L1341 882L1342 891L1343 886L1343 887L1344 889L1345 883L1345 880L1346 885L1347 898L1347 906L1348 903L1349 890L1349 886L1350 890L1351 893L1351 887L1352 901L1353 897L1353 892L1354 903L1355 911L1355 910L1356 910L1357 909L1357 915L1358 914L1359 908L1359 912L1360 906L1361 898L1361 891L1362 897L1363 901L1363 893L1364 902L1365 906L1365 896L1366 881L1367 894L1367 902L1368 896L1369 890L1369 882L1370 895L1371 900L1371 899L1372 889L1373 899L1373 903L1374 903L1375 893L1375 899L1376 915L1377 898L1377 890L1378 892L1379 894L1379 913L1380 917L1381 894L1381 887L1382 908L1383 917L1383 915L1384 910L1385 896L1385 891L1386 883L1387 887L1387 902L1388 906L1389 918L1389 907L1390 898L1391 911L1391 921L1392 907L1393 893L1393 904L1394 912L1395 898L1395 896L1396 907L1397 901L1397 890L1398 891L1399 894L1399 901L1400 906L1401 913L1401 905L1402 891L1403 902L1403 911L1404 911L1405 909L1405 896L1406 894L1407 902L1407 887L1408 882L1409 899L1409 897L1410 891L1411 883L1411 880L1412 885L1413 895L1414 885L1415 895L1415 889L1416 890L1417 903L1417 897L1418 893L1419 908L1419 900L1420 901L1421 908L1421 912L1422 905L1423 905L1423 902L1424 905L1425 897L1426 902L1426 917L1427 910L1428 911L1428 922L1429 909L1430 897L1430 900L1431 897L1432 911L1432 913L1433 898L1434 894L1434 900L1435 898L1436 894L1436 895L1437 883L1438 888L1438 895L1439 898L1440 898L1440 893L1441 901L1442 899L1442 890L1443 883L1444 887L1444 896L1445 894L1446 902L1446 914L1447 919L1448 917L1448 900L1449 894L1450 907L1450 911L1451 912L1452 909L1452 914L1453 915L1454 912L1454 909L1455 907L1456 905L1456 907L1457 908L1458 906L1458 914L1459 909L1460 909L1460 903L1461 905L1462 917L1462 901L1463 886L1464 889L1464 903L1465 919L1466 913L1466 906L1467 897L1468 903L1468 914L1469 916L1470 903L1470 905L1471 902L1472 893L1472 896L1473 890L1474 882L1474 900L1475 906L1476 894L1476 893L1477 910L1478 912L1478 915L1479 915L1480 904L1480 905L1481 901L1482 899L1482 900L1483 904L1484 911L1484 905L1485 899L1486 899L1486 900L1487 892L1488 893L1488 897L1489 895L1490 896L1490 902L1491 921L1492 921L1492 909L1493 909L1494 921L1494 911L1495 902L1496 904L1496 909L1497 914L1498 913L1498 916L1499 903L1500 900L1500 901L1501 912L1502 904L1502 902L1503 913L1504 911L1504 894L1505 889L1506 888L1506 897L1507 899L1508 895L1508 892L1509 892L1510 895L1511 908L1511 909L1512 889L1513 891L1513 898L1514 900L1515 893L1515 892L1516 893L1517 903L1518 901L1519 902L1519 894L1520 888L1521 901L1521 904L1522 903L1523 913L1523 911L1524 892L1525 895L1525 916L1526 915L1527 895L1527 885L1528 889L1529 888L1529 885L1530 890L1531 885L1531 888L1532 901L1533 897L1533 899L1534 908L1535 908L1535 900L1536 896L1537 899L1537 914L1538 908L1539 892L1539 898L1540 908L1541 913L1541 922L1542 916L1543 899L1543 892L1544 889L1545 898L1545 911L1546 924L1547 902L1547 879L1548 886L1549 893L1549 885L1550 886L1551 894L1551 900L1552 895L1553 893L1553 900L1554 895L1555 887L1555 881L1556 888L1557 895L1557 885L1558 893L1559 902L1559 897L1560 893L1561 892L1561 907L1562 911L1563 895L1563 877L1564 883L1565 905L1565 913L1566 906L1567 902L1567 891L1568 888L1569 892L1569 889L1570 881L1571 897L1571 899L1572 878L1573 872L1573 882L1574 873L1575 865L1575 883L1576 885L1577 886L1577 898L1578 886L1579 874L1579 873L1580 866L1581 868L1581 874L1582 869L1583 873L1583 888L1584 888L1585 882L1585 879L1586 880L1587 882L1587 878L1588 879L1589 863L1589 855L1590 850L1591 858L1591 872L1592 875L1593 862L1594 859L1594 857L1595 851L1596 850L1596 854L1597 849L1598 859L1598 863L1599 856L1600 850L1600 858L1601 874L1602 869L1602 880L1603 879L1604 866L1604 864L1605 884L1606 889L1606 872L1607 874L1608 886L1608 891L1609 895L1610 884L1610 879L1611 880L1612 894L1612 877L1613 862L1614 876L1614 891L1615 902L1616 891L1616 889L1617 899L1618 905L1618 899L1619 901L1620 898L1620 891L1621 892L1622 890L1623 896L1624 890L1624 903L1625 907L1626 895L1626 888L1627 893L1628 902L1628 905L1629 905L1630 905L1630 896L1631 892L1632 887L1632 899L1633 900L1634 899L1634 909L1635 898L1636 876L1636 884L1637 890L1638 911L1638 922L1639 903L1640 897L1640 898L1641 903L1642 910L1642 909L1643 900L1644 906L1644 897L1645 902L1646 913L1646 906L1647 891L1648 888L1648 893L1649 901L1650 905L1650 894L1651 901L1652 908L1653 911L1654 916L1654 912L1655 911L1656 914L1656 911L1657 894L1658 903L1658 901L1659 893L1660 884L1660 879L1661 888L1662 894L1662 897L1663 894L1664 908L1664 906L1665 896L1666 890L1666 887L1667 885L1668 891L1668 897L1669 893L1670 886L1670 890L1671 892L1672 905L1672 919L1673 911L1674 894L1674 880L1675 876L1676 883L1677 898L1677 896L1678 896L1679 895L1679 903L1680 910L1681 898L1681 892L1682 895L1683 901L1683 890L1684 882L1685 879L1685 884L1686 908L1687 920L1687 904L1688 906L1689 902L1689 890L1690 893L1691 895L1691 900L1692 908L1693 891L1693 898L1694 902L1695 897L1695 902L1696 909L1697 906L1697 907L1698 900L1699 890L1699 914L1700 928L1701 920L1701 907L1702 891L1703 891L1703 890L1704 895L1705 903L1705 896L1706 889L1707 882L1707 892L1708 898L1709 892L1709 898L1710 910L1711 892L1711 884L1712 893L1713 915L1713 924L1714 908L1715 893L1715 897L1716 904L1717 901L1717 914L1718 917L1719 908L1720 914L1721 912L1721 900L1722 905L1723 898L1723 892L1724 897L1725 895L1725 885L1726 879L1727 891L1727 916L1728 924L1729 916L1729 911L1730 899L1731 898L1732 888L1733 888L1733 896L1734 894L1735 891L1735 898L1736 902L1737 908L1737 902L1738 898L1739 899L1739 896L1740 892L1741 896L1741 907L1742 912L1743 907L1743 888L1744 889L1745 895L1745 898L1746 895L1747 896L1747 905L1748 900L1749 895L1749 911L1750 911L1751 901L1751 902L1752 900L1753 906L1753 899L1754 891L1755 891L1755 892L1756 899L1757 902L1757 899L1758 882L1759 866L1759 881L1760 884L1761 899L1762 911L1762 904L1763 896L1764 896L1765 892L1766 889L1766 894L1767 907L1768 907L1769 901L1770 899L1770 900L1771 906L1772 909L1772 902L1773 892L1774 896L1774 910L1775 902L1776 901L1776 915L1777 916L1778 906L1779 920L1780 913L1780 905L1781 895L1782 882L1782 884L1783 900L1784 903L1784 894L1785 883L1786 881L1786 886L1787 889L1788 906L1788 922L1789 931L1790 915L1790 894L1791 877L1792 864L1792 881L1793 899L1794 909L1794 910L1795 907L1796 905L1796 911L1797 910L1798 893L1798 886L1799 891L1800 913L1800 919L1801 906L1802 892L1802 895L1803 898L1804 898L1804 899L1805 901L1806 900L1806 906L1807 903L1808 897L1808 895L1809 897L1810 903L1810 900L1811 899L1812 891L1812 887L1813 898L1814 895L1814 902L1815 899L1816 882L1816 883L1817 888L1818 885L1818 888L1819 900L1820 900L1820 899L1821 897L1822 897L1822 893L1823 897L1824 903L1824 899L1825 891L1826 888L1826 897L1827 901L1828 894L1828 892L1829 909L1830 921L1830 905L1831 901L1832 894L1832 877L1833 888L1834 897L1834 907L1835 898L1836 890L1836 894L1837 897L1838 893L1838 891L1839 885L1840 894L1840 911L1841 920L1842 912L1842 907L1843 913L1844 917L1845 920L1845 913L1846 902L1847 900L1847 901L1848 902L1849 898L1849 884L1850 874L1851 878L1852 891L1853 892L1853 886L1854 901L1855 908L1855 907L1856 919L1857 916L1857 897L1858 904L1859 907L1859 906L1860 905L1861 893L1861 887L1862 886L1863 888L1863 889L1864 881L1865 886L1865 899L1866 900L1867 894L1867 880L1868 882L1869 890L1869 894L1870 896L1871 904L1871 900L1872 898L1873 900L1873 902L1874 900L1875 907L1875 906L1876 901L1877 900L1877 906L1878 911L1879 911L1879 907L1880 907L1881 906L1881 909L1882 894L1883 884L1883 902L1884 899L1885 887L1885 889L1886 896L1887 914L1887 904L1888 887L1889 895L1889 902L1890 909L1891 887L1891 874L1892 889L1893 893L1893 885L1894 879L1895 899L1895 907L1896 891L1897 899L1897 905L1898 917L1899 908L1899 901L1900 908L1901 903L1901 896L1902 899L1903 889L1903 887L1904 907L1905 899L1905 892L1906 892L1907 880L1907 878L1908 886L1909 891L1909 900L1910 905L1911 898L1911 902L1912 900L1913 890L1913 892L1914 893L1915 904L1916 894L1917 885L1917 890L1918 893L1919 900L1919 895L1920 892L1921 904L1922 898L1923 903L1923 897L1924 893L1925 894L1925 889L1926 889L1927 899L1928 914L1929 905L1930 909L1930 903L1931 902L1932 906L1932 910L1933 919L1934 902L1934 891L1935 901L1936 896L1936 881L1937 872L1938 897L1938 909L1939 909L1940 912L1940 913L1941 904L1942 901L1942 891L1943 893L1944 904L1944 897L1945 886L1946 893L1946 891L1947 888L1948 894L1948 887L1949 875L1950 885L1950 900L1951 888L1952 893L1952 902L1953 897L1954 884L1954 887L1955 896L1956 898L1956 886L1957 884L1958 901L1958 907L1959 897L1960 889L1960 893L1961 897L1962 894L1962 883L1963 887L1964 885L1964 881L1965 888L1966 889L1966 887L1967 886L1968 877L1968 884L1969 892L1970 895L1970 893L1971 874L1972 869L1972 884L1973 897L1974 906L1974 893L1975 880L1976 884L1976 872L1977 874L1978 899L1978 894L1979 888L1980 892L1980 896L1981 890L1982 884L1982 865L1983 863L1984 886L1984 892L1985 882L1986 875L1986 869L1987 868L1988 880L1988 879L1989 873L1990 872L1990 874L1991 872L1992 864L1992 853L1993 865L1994 875L1994 857L1995 853L1996 862L1996 864L1997 852L1998 837L1998 840L1999 833L2000 833L2000 842L2001 842L2002 855L2002 870L2003 856L2004 840L2004 825L2005 819L2006 816L2007 813L2008 815L2008 817L2009 809L2010 801L2010 805L2011 819L2012 824L2013 830L2013 828L2014 819L2015 815L2015 813L2016 833L2017 832L2017 812L2018 804L2019 806L2019 796L2020 803L2021 818L2021 816L2022 814L2023 818L2023 811L2024 814L2025 811L2026 817L2027 820L2027 833L2028 831L2029 835L2029 825L2030 824L2031 815L2031 814L2032 830L2033 834L2033 829L2034 838L2035 834L2035 838L2036 846L2037 841L2037 835L2038 854L2039 855L2039 842L2040 832L2041 827L2041 836L2042 852L2043 849L2043 843L2044 854L2045 869L2045 860L2046 860L2047 874L2047 872L2048 865L2049 855L2049 847L2050 851L2051 860L2051 868L2052 876L2053 879L2053 878L2054 873L2055 860L2055 852L2056 862L2057 865L2057 869L2058 870L2059 864L2059 866L2060 877L2061 881L2061 879L2062 885L2063 880L2063 875L2064 889L2065 900L2065 891L2066 899L2067 908L2067 903L2068 893L2069 904L2069 896L2070 887L2071 889L2071 895L2072 892L2073 894L2073 899L2074 886L2075 883L2075 897L2076 905L2077 900L2077 891L2078 900L2079 907L2079 906L2080 889L2081 890L2081 886L2082 876L2083 886L2083 900L2084 891L2085 889L2085 903L2086 910L2087 904L2087 891L2088 895L2089 901L2089 890L2090 889L2091 905L2091 908L2092 882L2093 864L2093 870L2094 881L2095 893L2096 900L2096 894L2097 890L2098 892L2098 888L2099 890L2100 900L2100 920L2101 910L2102 889L2102 883L2103 884L2104 878L2104 882L2105 891L2106 900L2106 893L2107 884L2108 878L2108 882L2109 892L2110 899L2110 904L2111 899L2112 905L2112 903L2113 891L2114 875L2114 882L2115 904L2116 913L2116 907L2117 903L2118 895L2118 891L2119 894L2120 905L2120 903L2121 896L2122 896L2122 902L2123 900L2124 898L2124 911L2125 906L2126 904L2126 914L2127 912L2128 903L2128 899L2129 888L2130 881L2130 880L2131 894L2132 888L2132 894L2133 890L2134 886L2134 894L2135 902L2136 911L2136 917L2137 911L2138 905L2138 899L2139 903L2140 900L2140 894L2141 896L2142 898L2142 901L2143 901L2144 893L2145 896L2146 884L2146 893L2147 900L2148 878L2148 885L2149 896L2150 896L2150 906L2151 890L2152 907L2152 920L2153 911L2154 901L2154 898L2155 895L2156 899L2156 891L2157 896L2158 902L2158 891L2159 892L2160 894L2160 892L2161 905L2162 900L2162 887L2163 890L2164 890L2164 891L2165 895L2166 896L2166 902L2167 899L2168 905L2169 904L2170 895L2170 889L2171 889L2172 903L2172 916L2173 925L2174 918L2174 905L2175 899L2176 901L2176 905L2177 915L2178 909L2179 893L2179 895L2180 910L2181 906L2181 902L2182 907L2183 899L2183 894L2184 887L2185 883L2185 895L2186 890L2187 887L2187 893L2188 903L2189 901L2189 893L2190 884L2191 887L2192 898L2193 903L2193 907L2194 919L2195 913L2195 907L2196 902L2197 901L2197 911L2198 908L2199 895L2199 906L2200 911L2201 911L2201 902L2202 886L2203 891L2203 912L2204 903L2205 889L2205 896L2206 891L2207 874L2207 867L2208 878L2209 896L2209 899L2210 898L2211 903L2211 898L2212 882L2213 886L2213 887L2214 884L2215 890L2215 895L2216 891L2217 884L2217 897L2218 911L2219 891L2219 882L2220 896" stroke="#ff0000" fill="none" stroke-width="12" stroke-linejoin="round" stroke-linecap="round" shape-rendering="crispEdges"/>
<g shape-rendering="crispEdges"><line x1="923" y1="427" x2="946" y2="692" stroke="#000" stroke-width="8"/>
<polygon points="924,690.6 967.8,688.5 952.8,774.4" fill="#000"/></g>
<text x="211.5" y="2136" font-size="133" text-anchor="middle" font-family="Liberation Serif,serif">20</text>
<text x="546.2" y="2136" font-size="133" text-anchor="middle" font-family="Liberation Serif,serif">30</text>
<text x="880.8" y="2136" font-size="133" text-anchor="middle" font-family="Liberation Serif,serif">40</text>
<text x="1215.5" y="2136" font-size="133" text-anchor="middle" font-family="Liberation Serif,serif">50</text>
<text x="1550.2" y="2136" font-size="133" text-anchor="middle" font-family="Liberation Serif,serif">60</text>
<text x="1884.8" y="2136" font-size="133" text-anchor="middle" font-family="Liberation Serif,serif">70</text>
<text x="2222.0" y="2136" font-size="133" text-anchor="middle" font-family="Liberation Serif,serif">80</text>
<text transform="translate(1087.3,2293) scale(1.09,1.02)" font-size="136" font-family="Liberation Serif,serif">2</text>
<text transform="translate(1168.4,2293.4) skewX(-6) scale(1.05,0.985)" font-size="136" font-style="italic" font-family="Liberation Serif,serif">θ</text>
<text transform="translate(1263,2292.6) skewX(-24.1) scale(1,1.424)" font-size="100" font-family="Liberation Serif,serif">/</text>
<text x="1331" y="2288" font-size="115" font-family="Liberation Serif,serif">°</text>
<text transform="translate(121.5,1341.5) rotate(-90) scale(1,1.03)" font-size="136" font-family="Liberation Serif,serif">Intensity / a.u.</text>
<text x="243.5" y="761.2" font-size="130" font-family="Liberation Sans,sans-serif">(</text>
<text transform="translate(286,763) scale(1.09,1)" font-size="133" font-family="Liberation Sans,sans-serif">c</text>
<text x="362.5" y="761.2" font-size="130" font-family="Liberation Sans,sans-serif">)</text>
<text x="247.6" y="1185.6" font-size="130" font-family="Liberation Sans,sans-serif">(</text>
<text transform="translate(290.4,1187) scale(1.05,1)" font-size="133" font-family="Liberation Sans,sans-serif">b</text>
<text x="372.4" y="1185.6" font-size="130" font-family="Liberation Sans,sans-serif">)</text>
<text x="259.1" y="1467.5" font-size="130" font-family="Liberation Sans,sans-serif">(</text>
<text transform="translate(303,1469) scale(0.94,1)" font-size="133" font-family="Liberation Sans,sans-serif">a</text>
<text x="384.5" y="1467.5" font-size="130" font-family="Liberation Sans,sans-serif">)</text>
<text x="217" y="1723.6" font-size="83.5" fill="#ff0000" font-family="Liberation Sans,sans-serif">Cu<tspan font-size="56" dy="18">2</tspan><tspan dy="-18">O:74-1230</tspan></text>
<text x="229.5" y="1891.5" font-size="82.5" fill="#002ed2" font-family="Liberation Sans,sans-serif">Cu:02-1225</text>
<text transform="translate(920,123.5) scale(1,1.05)" fill="#002ed2" font-weight="bold" font-size="84" font-family="Liberation Serif,serif">Cu</text>
<text x="921" y="190.7" fill="#002ed2" font-weight="bold" font-size="84" font-family="Liberation Serif,serif">(111)</text>
<text transform="translate(1156,596.7) scale(1,1.05)" fill="#002ed2" font-weight="bold" font-size="84" font-family="Liberation Serif,serif">Cu</text>
<text x="1157" y="663.4" fill="#002ed2" font-weight="bold" font-size="84" font-family="Liberation Serif,serif">(200)</text>
<text transform="translate(1950,693.2) scale(1,1.05)" fill="#002ed2" font-weight="bold" font-size="84" font-family="Liberation Serif,serif">Cu</text>
<text x="1950" y="760.2" fill="#002ed2" font-weight="bold" font-size="84" font-family="Liberation Serif,serif">(220)</text>
<text transform="translate(725,350.9) scale(1,1.05)" fill="#ff0000" font-weight="bold" font-size="84" font-family="Liberation Serif,serif">Cu<tspan font-size="57" dy="20">2</tspan><tspan dy="-20">O</tspan></text>
<text x="745.6" y="429.8" fill="#ff0000" font-weight="bold" font-size="84" font-family="Liberation Serif,serif">(200)</text>
<text transform="translate(660,581.0) scale(1,1.05)" fill="#ff0000" font-weight="bold" font-size="84" font-family="Liberation Serif,serif">Cu<tspan font-size="57" dy="20">2</tspan><tspan dy="-20">O</tspan></text>
<text x="681" y="660.6" fill="#ff0000" font-weight="bold" font-size="84" font-family="Liberation Serif,serif">(111)</text>
<text transform="translate(1509,720.2) scale(1,1.05)" fill="#ff0000" font-weight="bold" font-size="84" font-family="Liberation Serif,serif">Cu<tspan font-size="57" dy="20">2</tspan><tspan dy="-20">O</tspan></text>
<text x="1529" y="800" fill="#ff0000" font-weight="bold" font-size="84" font-family="Liberation Serif,serif">(220)</text>
<text transform="translate(1918,500.59999999999997) scale(1,1.05)" fill="#ff0000" font-weight="bold" font-size="84" font-family="Liberation Serif,serif">Cu<tspan font-size="57" dy="20">2</tspan><tspan dy="-20">O</tspan></text>
<text x="1939" y="580" fill="#ff0000" font-weight="bold" font-size="84" font-family="Liberation Serif,serif">(311)</text>
</svg></body></html>
